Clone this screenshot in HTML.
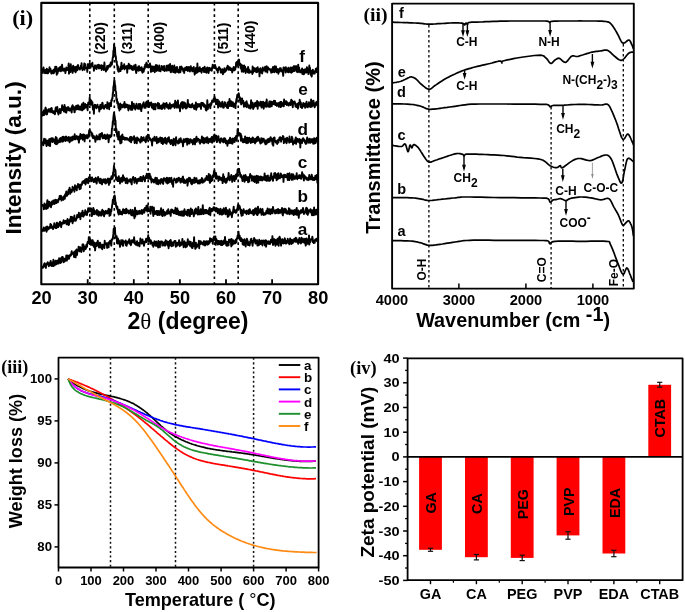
<!DOCTYPE html>
<html><head><meta charset="utf-8"><style>
html,body{margin:0;padding:0;background:#fff;}
svg{display:block;will-change:transform;filter:blur(0.4px);}
</style></head><body>
<svg width="685" height="612" viewBox="0 0 685 612">
<rect width="685" height="612" fill="#fff"/>
<line x1="89.8" y1="2.9" x2="89.8" y2="284.2" stroke="#000" stroke-width="1.6" stroke-dasharray="2.6 3.1"/>
<line x1="114.3" y1="2.9" x2="114.3" y2="284.2" stroke="#000" stroke-width="1.6" stroke-dasharray="2.6 3.1"/>
<line x1="148.2" y1="2.9" x2="148.2" y2="284.2" stroke="#000" stroke-width="1.6" stroke-dasharray="2.6 3.1"/>
<line x1="214.4" y1="2.9" x2="214.4" y2="284.2" stroke="#000" stroke-width="1.6" stroke-dasharray="2.6 3.1"/>
<line x1="238.2" y1="2.9" x2="238.2" y2="284.2" stroke="#000" stroke-width="1.6" stroke-dasharray="2.6 3.1"/>
<path d="M42.0,68.4L42.3,70.1L42.6,72.1L42.9,73.0L43.2,68.9L43.5,67.4L43.8,70.0L44.1,70.7L44.4,70.5L44.7,70.0L45.0,73.2L45.3,73.1L45.6,73.1L45.9,69.7L46.2,71.8L46.5,71.0L46.8,68.8L47.1,73.2L47.4,71.4L47.7,69.6L48.0,73.2L48.3,71.8L48.6,71.2L48.9,71.8L49.2,71.2L49.5,67.2L49.8,68.5L50.1,71.5L50.4,68.8L50.7,70.3L51.0,71.1L51.3,73.5L51.6,73.4L51.9,72.3L52.2,70.6L52.5,73.0L52.8,72.1L53.1,70.4L53.4,73.3L53.7,71.6L54.0,69.4L54.3,72.7L54.6,70.0L54.9,71.1L55.2,66.7L55.5,69.1L55.8,67.9L56.1,67.8L56.4,66.8L56.7,74.8L57.0,70.8L57.3,71.4L57.6,73.5L57.9,70.4L58.2,71.5L58.5,68.1L58.8,70.2L59.1,68.9L59.4,70.8L59.7,70.3L60.0,67.1L60.3,66.8L60.6,68.2L60.9,71.2L61.2,70.5L61.5,70.6L61.8,66.3L62.1,64.8L62.4,69.1L62.7,69.6L63.0,69.1L63.3,70.8L63.6,70.3L63.9,68.7L64.2,68.6L64.5,70.7L64.8,70.5L65.1,69.8L65.4,73.1L65.7,69.4L66.0,69.4L66.3,67.4L66.6,68.9L66.9,70.3L67.2,69.9L67.5,68.5L67.8,69.4L68.1,68.8L68.4,66.4L68.7,63.4L69.0,73.7L69.3,71.1L69.6,69.5L69.9,66.0L70.2,67.1L70.5,72.0L70.8,64.3L71.1,68.2L71.4,70.0L71.7,69.0L72.0,70.1L72.3,68.4L72.6,72.9L72.9,66.6L73.2,65.7L73.5,68.8L73.8,70.9L74.1,67.8L74.4,70.5L74.7,68.0L75.0,67.0L75.3,71.7L75.6,72.3L75.9,71.4L76.2,68.0L76.5,66.8L76.8,66.5L77.1,68.1L77.4,70.2L77.7,69.4L78.0,65.0L78.3,68.0L78.6,67.9L78.9,68.2L79.2,68.2L79.5,68.2L79.8,69.6L80.1,68.8L80.4,67.9L80.7,65.8L81.0,67.7L81.3,66.7L81.6,63.2L81.9,68.6L82.2,68.1L82.5,70.2L82.8,68.7L83.1,68.6L83.4,68.8L83.7,67.7L84.0,66.5L84.3,63.4L84.6,69.8L84.9,63.8L85.2,66.2L85.5,68.0L85.8,67.2L86.1,67.5L86.4,67.8L86.7,68.8L87.0,67.1L87.3,71.9L87.6,64.3L87.9,66.6L88.2,65.0L88.5,64.6L88.8,66.5L89.1,68.2L89.4,63.4L89.7,63.1L90.0,65.3L90.3,64.6L90.6,67.8L90.9,66.4L91.2,64.9L91.5,64.1L91.8,65.1L92.1,64.8L92.4,62.8L92.7,66.2L93.0,66.5L93.3,66.9L93.6,66.7L93.9,70.8L94.2,68.8L94.5,69.0L94.8,66.0L95.1,65.3L95.4,66.7L95.7,68.0L96.0,66.6L96.3,67.3L96.6,69.0L96.9,67.6L97.2,65.1L97.5,66.3L97.8,65.7L98.1,67.3L98.4,64.7L98.7,66.3L99.0,68.5L99.3,67.2L99.6,65.3L99.9,66.2L100.2,67.3L100.5,68.1L100.8,68.3L101.1,67.0L101.4,65.1L101.7,70.0L102.0,67.5L102.3,68.5L102.6,68.3L102.9,65.8L103.2,67.8L103.5,68.8L103.8,70.0L104.1,68.1L104.4,62.5L104.7,67.1L105.0,68.3L105.3,69.8L105.6,68.4L105.9,71.5L106.2,70.4L106.5,70.3L106.8,69.6L107.1,65.9L107.4,69.6L107.7,68.6L108.0,66.3L108.3,67.7L108.6,67.3L108.9,65.4L109.2,65.8L109.5,65.0L109.8,66.1L110.1,64.4L110.4,66.5L110.7,62.5L111.0,65.5L111.3,63.2L111.6,64.7L111.9,64.5L112.2,61.6L112.5,59.6L112.8,57.1L113.1,57.4L113.4,50.6L113.7,51.5L114.0,44.8L114.3,46.1L114.6,47.7L114.9,47.4L115.2,52.3L115.5,56.9L115.8,56.1L116.1,60.7L116.4,62.5L116.7,61.2L117.0,65.3L117.3,65.1L117.6,69.5L117.9,66.3L118.2,71.2L118.5,66.9L118.8,71.8L119.1,69.5L119.4,69.0L119.7,69.3L120.0,70.1L120.3,70.5L120.6,71.0L120.9,67.1L121.2,65.4L121.5,62.7L121.8,67.4L122.1,69.0L122.4,68.5L122.7,68.3L123.0,66.5L123.3,65.7L123.6,66.8L123.9,68.0L124.2,64.3L124.5,69.4L124.8,65.9L125.1,68.1L125.4,67.4L125.7,67.9L126.0,66.7L126.3,66.6L126.6,68.0L126.9,65.9L127.2,72.7L127.5,67.6L127.8,66.9L128.1,67.5L128.4,66.6L128.7,63.8L129.0,67.5L129.3,68.7L129.6,64.8L129.9,68.1L130.2,65.7L130.5,67.5L130.8,68.1L131.1,68.7L131.4,68.3L131.7,66.0L132.0,69.5L132.3,68.3L132.6,69.4L132.9,70.1L133.2,68.6L133.5,66.8L133.8,68.5L134.1,65.5L134.4,65.9L134.7,65.6L135.0,69.6L135.3,68.1L135.6,64.8L135.9,70.9L136.2,73.1L136.5,71.8L136.8,67.8L137.1,68.9L137.4,69.0L137.7,70.0L138.0,68.5L138.3,66.5L138.6,70.7L138.9,70.6L139.2,66.2L139.5,68.1L139.8,68.9L140.1,67.8L140.4,68.4L140.7,70.3L141.0,70.1L141.3,69.5L141.6,67.1L141.9,70.7L142.2,71.6L142.5,72.7L142.8,69.0L143.1,68.8L143.4,71.8L143.7,71.7L144.0,69.2L144.3,69.4L144.6,66.6L144.9,68.2L145.2,64.6L145.5,66.0L145.8,66.1L146.1,65.4L146.4,62.6L146.7,65.6L147.0,67.2L147.3,65.3L147.6,64.5L147.9,65.6L148.2,66.4L148.5,67.2L148.8,65.5L149.1,67.0L149.4,65.8L149.7,64.8L150.0,63.5L150.3,66.2L150.6,65.4L150.9,71.9L151.2,67.4L151.5,67.5L151.8,67.0L152.1,71.3L152.4,66.5L152.7,68.4L153.0,67.3L153.3,68.7L153.6,69.0L153.9,71.1L154.2,66.5L154.5,68.7L154.8,72.2L155.1,68.2L155.4,68.9L155.7,68.0L156.0,64.9L156.3,68.7L156.6,71.0L156.9,67.9L157.2,65.5L157.5,69.1L157.8,68.8L158.1,70.4L158.4,70.7L158.7,67.6L159.0,69.4L159.3,65.4L159.6,70.9L159.9,68.6L160.2,71.0L160.5,71.3L160.8,69.2L161.1,69.4L161.4,68.4L161.7,65.9L162.0,69.1L162.3,69.5L162.6,66.9L162.9,70.0L163.2,69.0L163.5,69.8L163.8,67.6L164.1,65.9L164.4,71.0L164.7,71.0L165.0,69.9L165.3,69.5L165.6,69.9L165.9,69.6L166.2,68.6L166.5,65.8L166.8,70.7L167.1,66.2L167.4,68.4L167.7,68.1L168.0,68.9L168.3,65.1L168.6,70.3L168.9,69.4L169.2,70.0L169.5,70.3L169.8,67.2L170.1,64.0L170.4,69.8L170.7,72.2L171.0,72.2L171.3,68.8L171.6,68.9L171.9,69.6L172.2,65.7L172.5,68.1L172.8,68.1L173.1,72.0L173.4,68.0L173.7,71.5L174.0,68.9L174.3,65.5L174.6,72.5L174.9,67.3L175.2,70.6L175.5,72.7L175.8,69.0L176.1,67.7L176.4,71.9L176.7,69.7L177.0,66.9L177.3,67.6L177.6,69.6L177.9,72.0L178.2,69.8L178.5,71.7L178.8,72.6L179.1,71.4L179.4,71.4L179.7,71.8L180.0,66.7L180.3,72.4L180.6,70.8L180.9,69.5L181.2,67.3L181.5,66.6L181.8,67.2L182.1,69.5L182.4,68.4L182.7,68.3L183.0,68.5L183.3,71.4L183.6,69.6L183.9,69.6L184.2,73.0L184.5,69.2L184.8,70.5L185.1,67.8L185.4,69.9L185.7,69.6L186.0,70.1L186.3,68.3L186.6,66.9L186.9,68.3L187.2,67.8L187.5,70.3L187.8,71.0L188.1,67.0L188.4,70.7L188.7,68.4L189.0,70.4L189.3,68.7L189.6,67.2L189.9,71.5L190.2,70.3L190.5,67.7L190.8,66.3L191.1,68.6L191.4,67.7L191.7,69.2L192.0,70.3L192.3,71.4L192.6,68.3L192.9,71.4L193.2,71.1L193.5,68.8L193.8,67.0L194.1,71.5L194.4,71.3L194.7,74.6L195.0,72.7L195.3,71.4L195.6,73.0L195.9,68.0L196.2,69.9L196.5,69.6L196.8,72.8L197.1,70.7L197.4,63.5L197.7,72.0L198.0,67.9L198.3,71.5L198.6,69.5L198.9,70.8L199.2,71.0L199.5,69.7L199.8,67.1L200.1,71.4L200.4,70.1L200.7,69.6L201.0,71.2L201.3,68.9L201.6,72.7L201.9,69.4L202.2,69.8L202.5,69.7L202.8,67.9L203.1,68.0L203.4,70.4L203.7,70.3L204.0,72.1L204.3,69.9L204.6,66.6L204.9,70.2L205.2,71.3L205.5,71.9L205.8,71.1L206.1,68.4L206.4,72.7L206.7,68.8L207.0,70.9L207.3,67.5L207.6,71.6L207.9,68.3L208.2,71.8L208.5,73.1L208.8,71.7L209.1,67.7L209.4,68.4L209.7,68.1L210.0,70.4L210.3,69.7L210.6,68.9L210.9,68.6L211.2,69.1L211.5,69.1L211.8,70.7L212.1,67.3L212.4,67.9L212.7,64.7L213.0,65.5L213.3,66.6L213.6,65.7L213.9,67.5L214.2,68.1L214.5,65.2L214.8,65.1L215.1,65.0L215.4,67.2L215.7,66.7L216.0,68.6L216.3,68.7L216.6,69.9L216.9,70.3L217.2,69.3L217.5,69.7L217.8,72.6L218.1,68.4L218.4,70.4L218.7,68.3L219.0,67.1L219.3,67.2L219.6,67.7L219.9,68.9L220.2,68.6L220.5,69.7L220.8,72.5L221.1,69.6L221.4,72.5L221.7,70.3L222.0,71.6L222.3,69.1L222.6,69.9L222.9,74.3L223.2,72.0L223.5,71.9L223.8,70.9L224.1,72.5L224.4,68.3L224.7,68.8L225.0,71.4L225.3,71.7L225.6,69.9L225.9,70.8L226.2,70.3L226.5,70.1L226.8,67.7L227.1,67.1L227.4,68.9L227.7,65.7L228.0,67.2L228.3,68.1L228.6,66.7L228.9,69.8L229.2,68.2L229.5,69.1L229.8,67.5L230.1,68.7L230.4,70.0L230.7,70.0L231.0,68.5L231.3,70.2L231.6,69.6L231.9,69.9L232.2,72.5L232.5,68.8L232.8,70.3L233.1,70.1L233.4,68.8L233.7,67.0L234.0,70.5L234.3,70.1L234.6,69.5L234.9,69.5L235.2,69.7L235.5,66.9L235.8,67.4L236.1,62.8L236.4,65.2L236.7,62.0L237.0,63.9L237.3,65.8L237.6,63.4L237.9,61.5L238.2,61.3L238.5,59.9L238.8,59.5L239.1,59.8L239.4,65.1L239.7,64.7L240.0,65.4L240.3,63.6L240.6,67.9L240.9,64.5L241.2,69.0L241.5,65.9L241.8,71.6L242.1,65.2L242.4,71.2L242.7,70.4L243.0,66.0L243.3,68.3L243.6,71.9L243.9,70.5L244.2,65.4L244.5,67.5L244.8,66.8L245.1,66.7L245.4,68.5L245.7,73.0L246.0,69.7L246.3,69.2L246.6,69.9L246.9,71.2L247.2,71.1L247.5,68.5L247.8,72.2L248.1,67.0L248.4,69.0L248.7,70.7L249.0,73.0L249.3,69.7L249.6,70.9L249.9,72.5L250.2,71.4L250.5,72.2L250.8,72.0L251.1,71.3L251.4,71.9L251.7,72.1L252.0,71.1L252.3,74.0L252.6,66.5L252.9,68.5L253.2,72.6L253.5,70.0L253.8,68.2L254.1,70.3L254.4,71.1L254.7,68.3L255.0,70.7L255.3,69.3L255.6,69.2L255.9,69.3L256.2,72.2L256.5,68.2L256.8,69.7L257.1,72.1L257.4,68.9L257.7,67.2L258.0,71.4L258.3,70.1L258.6,69.8L258.9,70.4L259.2,69.1L259.5,76.4L259.8,68.9L260.1,70.0L260.4,68.3L260.7,69.6L261.0,72.6L261.3,70.7L261.6,71.6L261.9,69.1L262.2,73.5L262.5,70.5L262.8,67.4L263.1,70.6L263.4,68.6L263.7,70.6L264.0,69.6L264.3,69.7L264.6,69.5L264.9,67.8L265.2,66.7L265.5,71.6L265.8,69.5L266.1,70.2L266.4,68.9L266.7,66.2L267.0,67.4L267.3,72.5L267.6,68.8L267.9,69.6L268.2,67.4L268.5,68.5L268.8,69.2L269.1,69.4L269.4,69.5L269.7,68.9L270.0,69.6L270.3,70.1L270.6,70.8L270.9,69.7L271.2,72.7L271.5,70.3L271.8,69.9L272.1,69.0L272.4,72.2L272.7,68.2L273.0,67.0L273.3,68.4L273.6,71.1L273.9,68.0L274.2,72.3L274.5,69.2L274.8,66.2L275.1,68.0L275.4,71.4L275.7,67.1L276.0,66.6L276.3,69.7L276.6,72.2L276.9,71.8L277.2,68.9L277.5,70.4L277.8,71.6L278.1,72.1L278.4,73.7L278.7,69.7L279.0,72.2L279.3,68.8L279.6,70.6L279.9,68.3L280.2,69.2L280.5,70.6L280.8,68.2L281.1,71.3L281.4,69.4L281.7,70.7L282.0,71.1L282.3,70.7L282.6,72.2L282.9,72.6L283.2,75.8L283.5,67.4L283.8,69.7L284.1,68.5L284.4,67.7L284.7,69.9L285.0,68.4L285.3,70.3L285.6,72.6L285.9,67.1L286.2,71.0L286.5,71.5L286.8,68.6L287.1,70.7L287.4,70.1L287.7,69.5L288.0,72.1L288.3,67.8L288.6,72.4L288.9,71.1L289.2,69.1L289.5,70.4L289.8,70.1L290.1,72.0L290.4,67.5L290.7,69.3L291.0,69.0L291.3,72.8L291.6,68.0L291.9,72.2L292.2,67.4L292.5,71.7L292.8,70.4L293.1,71.1L293.4,69.2L293.7,66.4L294.0,66.1L294.3,71.1L294.6,69.1L294.9,66.5L295.2,69.8L295.5,67.0L295.8,66.6L296.1,66.0L296.4,70.5L296.7,71.7L297.0,66.7L297.3,69.1L297.6,70.0L297.9,72.3L298.2,64.6L298.5,69.7L298.8,70.8L299.1,67.4L299.4,71.0L299.7,71.4L300.0,72.3L300.3,70.5L300.6,72.3L300.9,70.3L301.2,72.4L301.5,71.1L301.8,70.3L302.1,68.4L302.4,74.0L302.7,72.6L303.0,73.1L303.3,69.9L303.6,70.6L303.9,74.3L304.2,72.9L304.5,69.5L304.8,71.5L305.1,71.9L305.4,70.8L305.7,69.3L306.0,72.7L306.3,71.5L306.6,69.5L306.9,67.2L307.2,68.9L307.5,70.8L307.8,72.5L308.1,70.7L308.4,74.1L308.7,72.1L309.0,69.5L309.3,65.5L309.6,68.3L309.9,67.7L310.2,71.0L310.5,72.1L310.8,74.9L311.1,73.0L311.4,70.8L311.7,76.6L312.0,74.1L312.3,72.3L312.6,71.7L312.9,69.6L313.2,72.6L313.5,71.6L313.8,73.7L314.1,73.1L314.4,72.8L314.7,73.6L315.0,71.1L315.3,70.5L315.6,71.4L315.9,68.7L316.2,71.1L316.5,70.2L316.8,72.3L317.1,70.6L317.4,67.5L317.7,70.7" fill="none" stroke="#000" stroke-width="1.9" stroke-linejoin="round"/>
<path d="M42.0,111.8L42.3,112.0L42.6,115.5L42.9,115.4L43.2,114.6L43.5,113.9L43.8,110.5L44.1,115.1L44.4,111.9L44.7,114.1L45.0,113.0L45.3,108.5L45.6,107.6L45.9,108.7L46.2,111.6L46.5,114.5L46.8,112.0L47.1,114.3L47.4,110.2L47.7,110.9L48.0,110.0L48.3,111.6L48.6,109.1L48.9,110.5L49.2,111.8L49.5,109.8L49.8,109.2L50.1,109.7L50.4,108.7L50.7,108.9L51.0,112.2L51.3,110.7L51.6,107.9L51.9,109.6L52.2,111.1L52.5,111.7L52.8,111.8L53.1,113.0L53.4,111.3L53.7,111.1L54.0,111.1L54.3,113.4L54.6,112.6L54.9,114.3L55.2,113.1L55.5,108.7L55.8,107.4L56.1,107.5L56.4,108.1L56.7,111.0L57.0,108.2L57.3,107.0L57.6,110.5L57.9,112.8L58.2,112.9L58.5,114.5L58.8,111.9L59.1,111.2L59.4,111.2L59.7,109.0L60.0,110.0L60.3,112.9L60.6,113.2L60.9,111.3L61.2,109.6L61.5,108.6L61.8,109.2L62.1,105.2L62.4,109.8L62.7,110.0L63.0,108.1L63.3,109.0L63.6,106.8L63.9,111.4L64.2,111.6L64.5,104.9L64.8,108.2L65.1,109.5L65.4,112.0L65.7,107.4L66.0,109.4L66.3,112.7L66.6,111.0L66.9,109.0L67.2,108.1L67.5,108.9L67.8,107.3L68.1,109.9L68.4,107.3L68.7,109.9L69.0,110.4L69.3,110.7L69.6,109.4L69.9,108.5L70.2,109.5L70.5,109.1L70.8,110.6L71.1,108.1L71.4,111.5L71.7,112.5L72.0,106.3L72.3,108.2L72.6,105.3L72.9,109.3L73.2,108.9L73.5,107.9L73.8,106.6L74.1,108.5L74.4,112.3L74.7,112.1L75.0,109.5L75.3,107.8L75.6,108.4L75.9,107.2L76.2,105.7L76.5,106.9L76.8,109.5L77.1,109.1L77.4,108.7L77.7,106.3L78.0,105.1L78.3,109.0L78.6,106.9L78.9,109.4L79.2,106.4L79.5,109.6L79.8,108.5L80.1,107.1L80.4,106.6L80.7,109.7L81.0,108.6L81.3,106.5L81.6,107.1L81.9,104.1L82.2,110.4L82.5,109.5L82.8,106.4L83.1,108.0L83.4,102.6L83.7,109.3L84.0,107.9L84.3,107.6L84.6,108.1L84.9,106.6L85.2,104.0L85.5,104.7L85.8,105.0L86.1,107.6L86.4,106.6L86.7,105.5L87.0,107.2L87.3,104.6L87.6,110.2L87.9,105.8L88.2,102.6L88.5,104.1L88.8,104.2L89.1,102.2L89.4,104.2L89.7,97.2L90.0,101.9L90.3,99.7L90.6,102.2L90.9,104.9L91.2,100.4L91.5,101.1L91.8,103.8L92.1,102.3L92.4,102.2L92.7,107.0L93.0,109.6L93.3,106.9L93.6,108.2L93.9,113.8L94.2,107.4L94.5,105.2L94.8,104.7L95.1,106.7L95.4,105.0L95.7,106.3L96.0,106.0L96.3,108.3L96.6,106.2L96.9,106.3L97.2,105.3L97.5,104.7L97.8,106.6L98.1,106.6L98.4,107.7L98.7,107.4L99.0,107.2L99.3,111.5L99.6,107.8L99.9,109.5L100.2,105.0L100.5,108.7L100.8,109.0L101.1,107.4L101.4,104.4L101.7,108.1L102.0,104.6L102.3,102.8L102.6,103.0L102.9,106.4L103.2,105.9L103.5,108.0L103.8,107.8L104.1,108.9L104.4,107.1L104.7,106.6L105.0,106.2L105.3,104.9L105.6,105.0L105.9,105.6L106.2,107.4L106.5,105.2L106.8,106.7L107.1,108.6L107.4,102.1L107.7,105.1L108.0,105.0L108.3,106.6L108.6,103.6L108.9,104.8L109.2,109.3L109.5,103.1L109.8,105.4L110.1,105.8L110.4,105.2L110.7,102.9L111.0,106.1L111.3,100.2L111.6,101.1L111.9,100.3L112.2,98.0L112.5,98.5L112.8,92.9L113.1,93.1L113.4,86.5L113.7,86.6L114.0,82.6L114.3,79.9L114.6,81.1L114.9,85.4L115.2,85.4L115.5,89.9L115.8,92.1L116.1,92.1L116.4,99.3L116.7,100.9L117.0,98.9L117.3,103.5L117.6,103.7L117.9,102.0L118.2,104.8L118.5,108.0L118.8,108.1L119.1,107.1L119.4,110.5L119.7,106.1L120.0,104.0L120.3,103.5L120.6,109.0L120.9,105.3L121.2,105.4L121.5,104.9L121.8,105.0L122.1,105.5L122.4,107.4L122.7,107.4L123.0,106.4L123.3,106.6L123.6,104.0L123.9,104.1L124.2,105.7L124.5,102.0L124.8,107.6L125.1,107.3L125.4,107.0L125.7,104.5L126.0,106.1L126.3,107.2L126.6,105.4L126.9,104.6L127.2,105.5L127.5,106.5L127.8,104.9L128.1,108.2L128.4,110.5L128.7,107.9L129.0,105.9L129.3,105.4L129.6,108.5L129.9,106.4L130.2,107.2L130.5,106.7L130.8,106.0L131.1,109.9L131.4,106.6L131.7,106.5L132.0,102.0L132.3,109.9L132.6,107.3L132.9,106.0L133.2,105.3L133.5,105.6L133.8,103.7L134.1,107.7L134.4,105.5L134.7,108.1L135.0,108.3L135.3,109.6L135.6,106.5L135.9,105.7L136.2,105.2L136.5,103.7L136.8,105.2L137.1,106.4L137.4,108.4L137.7,108.3L138.0,106.3L138.3,108.8L138.6,105.7L138.9,103.9L139.2,108.7L139.5,106.1L139.8,105.0L140.1,103.9L140.4,105.4L140.7,109.7L141.0,106.5L141.3,111.1L141.6,106.6L141.9,108.1L142.2,106.4L142.5,104.5L142.8,104.2L143.1,104.7L143.4,103.0L143.7,102.3L144.0,105.7L144.3,107.8L144.6,106.1L144.9,105.8L145.2,104.2L145.5,107.8L145.8,107.0L146.1,102.1L146.4,104.0L146.7,103.4L147.0,101.4L147.3,106.0L147.6,105.5L147.9,104.0L148.2,106.1L148.5,102.3L148.8,104.8L149.1,107.1L149.4,103.4L149.7,104.9L150.0,102.9L150.3,105.4L150.6,105.3L150.9,102.7L151.2,102.4L151.5,104.1L151.8,107.5L152.1,104.9L152.4,104.6L152.7,106.4L153.0,108.6L153.3,104.0L153.6,106.6L153.9,109.3L154.2,107.0L154.5,106.0L154.8,107.7L155.1,103.8L155.4,109.4L155.7,105.8L156.0,104.5L156.3,105.5L156.6,105.4L156.9,105.5L157.2,104.1L157.5,105.9L157.8,103.0L158.1,108.4L158.4,103.3L158.7,103.6L159.0,103.7L159.3,106.9L159.6,105.7L159.9,108.5L160.2,105.6L160.5,107.1L160.8,106.4L161.1,105.7L161.4,108.6L161.7,109.1L162.0,109.0L162.3,104.9L162.6,108.1L162.9,105.6L163.2,104.9L163.5,103.3L163.8,103.9L164.1,106.4L164.4,107.3L164.7,108.7L165.0,103.7L165.3,104.5L165.6,105.8L165.9,106.1L166.2,106.4L166.5,102.9L166.8,105.8L167.1,107.5L167.4,106.9L167.7,105.9L168.0,104.8L168.3,105.8L168.6,108.7L168.9,106.4L169.2,106.9L169.5,108.4L169.8,103.3L170.1,106.9L170.4,106.9L170.7,108.5L171.0,105.7L171.3,105.7L171.6,104.9L171.9,106.7L172.2,105.9L172.5,105.6L172.8,106.4L173.1,105.6L173.4,104.1L173.7,104.9L174.0,105.1L174.3,107.1L174.6,107.9L174.9,104.8L175.2,100.7L175.5,105.7L175.8,104.3L176.1,102.2L176.4,103.5L176.7,107.6L177.0,102.1L177.3,103.2L177.6,105.8L177.9,100.4L178.2,105.1L178.5,107.6L178.8,106.7L179.1,106.5L179.4,105.4L179.7,106.1L180.0,111.3L180.3,106.4L180.6,107.8L180.9,103.3L181.2,105.7L181.5,105.8L181.8,105.9L182.1,102.0L182.4,105.1L182.7,108.5L183.0,106.9L183.3,104.2L183.6,107.3L183.9,102.3L184.2,107.1L184.5,107.2L184.8,105.8L185.1,104.8L185.4,103.3L185.7,105.9L186.0,108.6L186.3,107.4L186.6,106.8L186.9,107.8L187.2,104.9L187.5,106.8L187.8,100.0L188.1,104.6L188.4,104.9L188.7,105.8L189.0,106.0L189.3,106.9L189.6,104.5L189.9,107.0L190.2,105.3L190.5,107.2L190.8,106.3L191.1,107.4L191.4,106.6L191.7,104.7L192.0,106.2L192.3,103.8L192.6,106.2L192.9,106.9L193.2,105.5L193.5,105.6L193.8,108.1L194.1,108.4L194.4,109.0L194.7,105.2L195.0,105.3L195.3,106.8L195.6,107.4L195.9,102.4L196.2,109.7L196.5,108.2L196.8,103.9L197.1,107.3L197.4,104.7L197.7,105.5L198.0,104.0L198.3,104.8L198.6,106.4L198.9,106.8L199.2,104.3L199.5,105.9L199.8,104.3L200.1,104.7L200.4,104.3L200.7,104.2L201.0,108.9L201.3,102.8L201.6,102.9L201.9,105.0L202.2,104.6L202.5,102.9L202.8,105.3L203.1,103.1L203.4,105.0L203.7,106.5L204.0,105.3L204.3,104.3L204.6,104.6L204.9,105.6L205.2,107.5L205.5,105.8L205.8,109.9L206.1,108.6L206.4,110.6L206.7,107.9L207.0,107.8L207.3,100.2L207.6,104.8L207.9,109.1L208.2,106.4L208.5,104.9L208.8,106.5L209.1,105.7L209.4,105.8L209.7,104.2L210.0,106.3L210.3,108.4L210.6,105.2L210.9,105.4L211.2,102.7L211.5,104.1L211.8,102.4L212.1,100.4L212.4,101.5L212.7,101.1L213.0,101.7L213.3,101.7L213.6,98.9L213.9,98.3L214.2,99.7L214.5,96.8L214.8,98.1L215.1,98.8L215.4,99.2L215.7,99.4L216.0,104.2L216.3,103.6L216.6,102.2L216.9,100.0L217.2,101.9L217.5,104.5L217.8,99.7L218.1,107.6L218.4,103.3L218.7,103.6L219.0,105.0L219.3,101.4L219.6,104.5L219.9,104.7L220.2,106.5L220.5,103.1L220.8,106.2L221.1,106.7L221.4,105.1L221.7,103.5L222.0,102.9L222.3,101.6L222.6,104.5L222.9,106.5L223.2,107.8L223.5,107.4L223.8,107.6L224.1,104.0L224.4,103.9L224.7,102.2L225.0,103.2L225.3,102.6L225.6,105.0L225.9,106.2L226.2,104.9L226.5,105.0L226.8,106.8L227.1,107.7L227.4,107.3L227.7,102.5L228.0,108.1L228.3,104.1L228.6,101.6L228.9,103.7L229.2,105.9L229.5,99.0L229.8,106.0L230.1,104.7L230.4,105.0L230.7,101.1L231.0,102.3L231.3,101.5L231.6,106.1L231.9,102.6L232.2,105.1L232.5,104.1L232.8,102.1L233.1,106.1L233.4,106.8L233.7,106.9L234.0,103.7L234.3,105.5L234.6,106.5L234.9,106.1L235.2,105.6L235.5,108.1L235.8,102.1L236.1,103.3L236.4,98.9L236.7,101.8L237.0,97.1L237.3,94.8L237.6,97.3L237.9,95.5L238.2,94.2L238.5,94.5L238.8,93.3L239.1,96.0L239.4,96.9L239.7,100.3L240.0,97.5L240.3,102.5L240.6,102.1L240.9,98.7L241.2,104.4L241.5,98.9L241.8,103.2L242.1,98.4L242.4,102.7L242.7,102.2L243.0,103.2L243.3,100.9L243.6,103.0L243.9,106.7L244.2,105.4L244.5,103.6L244.8,103.3L245.1,103.0L245.4,106.4L245.7,103.6L246.0,105.8L246.3,101.5L246.6,101.3L246.9,107.2L247.2,103.3L247.5,104.3L247.8,105.3L248.1,106.0L248.4,105.3L248.7,105.5L249.0,108.0L249.3,105.4L249.6,106.9L249.9,105.9L250.2,105.8L250.5,108.6L250.8,105.0L251.1,100.2L251.4,104.1L251.7,104.4L252.0,107.4L252.3,103.7L252.6,102.6L252.9,105.7L253.2,109.0L253.5,105.5L253.8,107.8L254.1,106.4L254.4,106.4L254.7,103.5L255.0,104.2L255.3,102.7L255.6,103.9L255.9,103.2L256.2,106.3L256.5,103.6L256.8,104.2L257.1,100.9L257.4,102.7L257.7,108.8L258.0,103.7L258.3,102.3L258.6,105.4L258.9,104.9L259.2,104.3L259.5,104.7L259.8,103.5L260.1,105.8L260.4,101.7L260.7,104.2L261.0,105.2L261.3,101.9L261.6,107.6L261.9,104.6L262.2,104.3L262.5,103.1L262.8,106.1L263.1,101.7L263.4,105.5L263.7,108.7L264.0,106.1L264.3,106.5L264.6,102.8L264.9,105.3L265.2,102.5L265.5,102.6L265.8,103.2L266.1,106.9L266.4,102.3L266.7,99.5L267.0,103.5L267.3,105.9L267.6,105.9L267.9,105.1L268.2,106.9L268.5,106.3L268.8,105.0L269.1,103.1L269.4,101.4L269.7,106.9L270.0,102.2L270.3,106.5L270.6,106.2L270.9,101.5L271.2,103.0L271.5,104.9L271.8,106.2L272.1,101.9L272.4,103.4L272.7,102.5L273.0,102.4L273.3,104.0L273.6,103.4L273.9,100.6L274.2,104.2L274.5,102.2L274.8,102.9L275.1,100.9L275.4,105.0L275.7,104.4L276.0,104.3L276.3,103.1L276.6,104.3L276.9,106.0L277.2,103.5L277.5,104.0L277.8,103.2L278.1,105.2L278.4,104.2L278.7,103.3L279.0,106.8L279.3,104.0L279.6,102.4L279.9,102.7L280.2,102.8L280.5,102.0L280.8,107.1L281.1,105.5L281.4,101.9L281.7,106.4L282.0,103.4L282.3,104.0L282.6,103.2L282.9,104.5L283.2,104.4L283.5,105.6L283.8,106.3L284.1,99.5L284.4,103.3L284.7,104.3L285.0,104.0L285.3,101.4L285.6,103.9L285.9,104.1L286.2,101.1L286.5,102.4L286.8,105.0L287.1,102.1L287.4,103.0L287.7,103.4L288.0,104.5L288.3,105.0L288.6,105.6L288.9,103.8L289.2,103.8L289.5,102.6L289.8,103.3L290.1,103.2L290.4,105.0L290.7,104.7L291.0,101.5L291.3,99.7L291.6,104.0L291.9,102.6L292.2,100.8L292.5,105.9L292.8,107.3L293.1,102.7L293.4,102.7L293.7,103.3L294.0,101.8L294.3,102.9L294.6,101.4L294.9,103.8L295.2,103.0L295.5,106.5L295.8,104.5L296.1,106.0L296.4,107.1L296.7,105.7L297.0,105.9L297.3,103.6L297.6,104.5L297.9,108.6L298.2,106.2L298.5,103.6L298.8,102.9L299.1,102.7L299.4,104.4L299.7,99.8L300.0,103.9L300.3,101.5L300.6,107.0L300.9,102.8L301.2,106.7L301.5,104.3L301.8,104.5L302.1,108.1L302.4,105.4L302.7,106.6L303.0,106.1L303.3,103.0L303.6,104.8L303.9,106.2L304.2,105.0L304.5,104.8L304.8,103.7L305.1,107.8L305.4,103.7L305.7,107.5L306.0,104.5L306.3,105.8L306.6,101.8L306.9,105.2L307.2,103.9L307.5,105.8L307.8,107.3L308.1,106.0L308.4,104.8L308.7,106.1L309.0,102.2L309.3,104.9L309.6,103.3L309.9,106.6L310.2,102.8L310.5,106.8L310.8,107.1L311.1,99.4L311.4,102.9L311.7,100.8L312.0,106.5L312.3,102.3L312.6,105.3L312.9,105.0L313.2,102.4L313.5,100.8L313.8,105.8L314.1,103.3L314.4,104.6L314.7,107.4L315.0,105.1L315.3,105.1L315.6,102.9L315.9,105.5L316.2,102.8L316.5,101.8L316.8,103.6L317.1,104.3L317.4,102.9L317.7,105.7" fill="none" stroke="#000" stroke-width="1.9" stroke-linejoin="round"/>
<path d="M42.0,143.5L42.3,142.3L42.6,143.5L42.9,143.9L43.2,145.3L43.5,144.8L43.8,141.1L44.1,138.8L44.4,141.5L44.7,139.7L45.0,139.4L45.3,143.3L45.6,139.2L45.9,143.5L46.2,143.8L46.5,146.1L46.8,143.4L47.1,145.0L47.4,140.6L47.7,140.7L48.0,144.8L48.3,140.6L48.6,145.2L48.9,142.6L49.2,139.1L49.5,145.8L49.8,139.5L50.1,146.0L50.4,138.7L50.7,140.1L51.0,141.5L51.3,141.3L51.6,138.2L51.9,141.2L52.2,141.5L52.5,142.0L52.8,138.1L53.1,140.2L53.4,140.3L53.7,141.5L54.0,140.2L54.3,139.8L54.6,139.5L54.9,143.4L55.2,139.5L55.5,141.5L55.8,137.0L56.1,144.3L56.4,141.9L56.7,137.9L57.0,142.3L57.3,143.8L57.6,142.6L57.9,141.5L58.2,142.7L58.5,140.4L58.8,140.8L59.1,140.3L59.4,140.6L59.7,138.6L60.0,142.2L60.3,139.4L60.6,138.0L60.9,140.0L61.2,141.0L61.5,139.8L61.8,141.6L62.1,138.4L62.4,136.9L62.7,138.8L63.0,141.6L63.3,137.7L63.6,136.6L63.9,138.9L64.2,140.0L64.5,137.7L64.8,139.7L65.1,138.0L65.4,141.1L65.7,136.7L66.0,136.6L66.3,138.9L66.6,140.2L66.9,140.3L67.2,137.7L67.5,139.3L67.8,139.5L68.1,140.7L68.4,137.2L68.7,136.9L69.0,140.3L69.3,139.3L69.6,142.3L69.9,139.8L70.2,139.9L70.5,137.4L70.8,139.3L71.1,140.9L71.4,138.3L71.7,137.2L72.0,140.5L72.3,138.3L72.6,138.6L72.9,136.4L73.2,139.7L73.5,136.8L73.8,137.4L74.1,138.3L74.4,138.4L74.7,134.2L75.0,139.4L75.3,136.3L75.6,139.4L75.9,137.6L76.2,137.8L76.5,136.2L76.8,136.0L77.1,137.7L77.4,137.8L77.7,139.3L78.0,139.5L78.3,136.8L78.6,140.5L78.9,142.7L79.2,140.2L79.5,137.5L79.8,136.0L80.1,137.5L80.4,134.0L80.7,138.7L81.0,137.1L81.3,136.8L81.6,138.4L81.9,136.1L82.2,134.6L82.5,136.6L82.8,139.7L83.1,135.6L83.4,139.0L83.7,134.4L84.0,137.6L84.3,138.7L84.6,141.4L84.9,135.2L85.2,137.9L85.5,136.5L85.8,138.2L86.1,136.6L86.4,137.4L86.7,135.2L87.0,135.4L87.3,137.1L87.6,138.3L87.9,135.5L88.2,135.7L88.5,134.1L88.8,136.9L89.1,130.9L89.4,130.1L89.7,130.3L90.0,131.6L90.3,132.3L90.6,131.5L90.9,132.9L91.2,132.7L91.5,133.2L91.8,132.9L92.1,136.1L92.4,133.9L92.7,137.5L93.0,138.0L93.3,136.2L93.6,136.2L93.9,136.0L94.2,138.5L94.5,137.8L94.8,137.1L95.1,139.5L95.4,141.9L95.7,139.9L96.0,139.4L96.3,137.3L96.6,135.4L96.9,137.2L97.2,137.0L97.5,136.6L97.8,139.5L98.1,137.8L98.4,138.1L98.7,138.7L99.0,138.7L99.3,134.5L99.6,138.5L99.9,139.4L100.2,134.3L100.5,136.6L100.8,134.8L101.1,133.7L101.4,136.3L101.7,136.2L102.0,133.0L102.3,136.0L102.6,138.3L102.9,135.6L103.2,135.4L103.5,136.3L103.8,136.7L104.1,138.2L104.4,135.5L104.7,134.7L105.0,138.0L105.3,138.4L105.6,138.7L105.9,139.1L106.2,136.8L106.5,135.4L106.8,136.4L107.1,137.8L107.4,134.5L107.7,137.0L108.0,138.8L108.3,137.2L108.6,142.2L108.9,139.4L109.2,135.4L109.5,135.2L109.8,135.2L110.1,136.8L110.4,137.2L110.7,135.5L111.0,135.6L111.3,136.3L111.6,134.8L111.9,129.0L112.2,127.7L112.5,126.0L112.8,121.3L113.1,123.0L113.4,117.3L113.7,115.0L114.0,113.0L114.3,114.6L114.6,115.9L114.9,118.2L115.2,121.6L115.5,120.6L115.8,128.2L116.1,132.1L116.4,129.0L116.7,131.3L117.0,134.7L117.3,136.5L117.6,134.8L117.9,133.9L118.2,139.4L118.5,134.9L118.8,131.8L119.1,138.3L119.4,139.9L119.7,140.7L120.0,140.5L120.3,143.4L120.6,137.1L120.9,136.4L121.2,135.9L121.5,142.7L121.8,137.8L122.1,135.2L122.4,134.5L122.7,139.0L123.0,137.1L123.3,139.0L123.6,137.1L123.9,137.3L124.2,139.0L124.5,138.1L124.8,139.7L125.1,138.1L125.4,137.8L125.7,139.6L126.0,138.3L126.3,138.9L126.6,139.5L126.9,138.0L127.2,138.6L127.5,138.6L127.8,139.8L128.1,139.1L128.4,139.4L128.7,139.9L129.0,139.1L129.3,140.7L129.6,139.0L129.9,137.3L130.2,141.4L130.5,136.9L130.8,140.1L131.1,142.3L131.4,140.3L131.7,137.0L132.0,140.3L132.3,139.4L132.6,138.1L132.9,139.0L133.2,138.3L133.5,138.4L133.8,139.5L134.1,136.2L134.4,140.6L134.7,143.1L135.0,139.8L135.3,138.3L135.6,139.4L135.9,142.2L136.2,138.7L136.5,140.4L136.8,143.2L137.1,137.5L137.4,139.1L137.7,138.4L138.0,138.8L138.3,140.1L138.6,138.7L138.9,140.4L139.2,139.8L139.5,141.3L139.8,141.0L140.1,139.7L140.4,142.6L140.7,139.2L141.0,139.8L141.3,136.9L141.6,141.3L141.9,137.6L142.2,140.8L142.5,138.4L142.8,140.4L143.1,138.1L143.4,138.1L143.7,137.3L144.0,139.9L144.3,139.9L144.6,140.7L144.9,139.9L145.2,139.4L145.5,140.7L145.8,142.3L146.1,137.7L146.4,136.5L146.7,137.9L147.0,140.3L147.3,135.9L147.6,135.7L147.9,134.6L148.2,135.5L148.5,134.9L148.8,134.9L149.1,138.7L149.4,139.4L149.7,138.0L150.0,138.3L150.3,140.2L150.6,138.9L150.9,139.7L151.2,140.6L151.5,140.0L151.8,142.2L152.1,145.5L152.4,139.6L152.7,140.2L153.0,138.5L153.3,139.1L153.6,140.5L153.9,140.6L154.2,139.0L154.5,136.8L154.8,140.5L155.1,138.7L155.4,140.7L155.7,139.8L156.0,140.4L156.3,141.0L156.6,137.0L156.9,143.2L157.2,139.3L157.5,141.6L157.8,141.4L158.1,140.3L158.4,138.7L158.7,142.3L159.0,139.1L159.3,140.2L159.6,140.6L159.9,138.9L160.2,137.4L160.5,139.5L160.8,141.6L161.1,139.1L161.4,143.0L161.7,137.9L162.0,139.0L162.3,138.1L162.6,140.1L162.9,144.1L163.2,142.5L163.5,140.6L163.8,139.3L164.1,142.1L164.4,139.7L164.7,138.1L165.0,142.8L165.3,137.8L165.6,141.2L165.9,141.8L166.2,142.2L166.5,143.9L166.8,142.2L167.1,139.0L167.4,141.7L167.7,140.7L168.0,138.0L168.3,138.2L168.6,138.8L168.9,137.3L169.2,141.6L169.5,142.0L169.8,142.5L170.1,140.3L170.4,141.7L170.7,144.1L171.0,143.0L171.3,141.6L171.6,140.0L171.9,140.7L172.2,143.2L172.5,140.8L172.8,145.1L173.1,145.4L173.4,143.0L173.7,138.6L174.0,141.3L174.3,143.9L174.6,140.5L174.9,139.6L175.2,141.0L175.5,145.3L175.8,139.8L176.1,137.1L176.4,140.9L176.7,141.2L177.0,142.5L177.3,141.5L177.6,142.0L177.9,140.9L178.2,143.6L178.5,141.0L178.8,141.4L179.1,139.3L179.4,142.9L179.7,140.5L180.0,139.4L180.3,140.4L180.6,138.1L180.9,139.3L181.2,141.8L181.5,141.3L181.8,141.3L182.1,142.6L182.4,141.2L182.7,142.6L183.0,146.3L183.3,142.9L183.6,139.2L183.9,141.6L184.2,140.6L184.5,141.1L184.8,141.9L185.1,139.1L185.4,141.4L185.7,140.4L186.0,141.5L186.3,138.7L186.6,139.5L186.9,140.7L187.2,144.8L187.5,138.6L187.8,144.0L188.1,141.1L188.4,142.6L188.7,139.2L189.0,140.6L189.3,140.4L189.6,143.5L189.9,140.2L190.2,141.0L190.5,139.2L190.8,141.0L191.1,140.0L191.4,141.4L191.7,142.3L192.0,142.6L192.3,140.3L192.6,140.3L192.9,144.4L193.2,141.3L193.5,142.5L193.8,141.0L194.1,139.0L194.4,140.5L194.7,140.7L195.0,144.4L195.3,138.8L195.6,140.1L195.9,142.0L196.2,139.7L196.5,136.8L196.8,141.7L197.1,140.7L197.4,139.2L197.7,138.8L198.0,138.8L198.3,140.0L198.6,140.1L198.9,139.3L199.2,140.8L199.5,142.5L199.8,139.9L200.1,143.7L200.4,141.2L200.7,142.1L201.0,141.8L201.3,141.9L201.6,141.1L201.9,136.4L202.2,139.0L202.5,142.5L202.8,138.8L203.1,140.7L203.4,137.8L203.7,139.7L204.0,143.4L204.3,140.9L204.6,139.0L204.9,139.4L205.2,138.2L205.5,141.9L205.8,140.5L206.1,142.5L206.4,142.2L206.7,139.0L207.0,137.4L207.3,137.2L207.6,138.6L207.9,140.0L208.2,143.2L208.5,139.4L208.8,141.9L209.1,139.0L209.4,139.4L209.7,141.7L210.0,140.7L210.3,138.6L210.6,138.6L210.9,141.7L211.2,138.6L211.5,138.4L211.8,137.0L212.1,142.7L212.4,141.4L212.7,139.0L213.0,141.7L213.3,138.2L213.6,136.0L213.9,137.1L214.2,138.8L214.5,134.4L214.8,138.7L215.1,139.1L215.4,139.7L215.7,137.9L216.0,139.8L216.3,135.7L216.6,139.4L216.9,142.1L217.2,141.3L217.5,140.1L217.8,137.1L218.1,138.7L218.4,136.1L218.7,139.1L219.0,140.5L219.3,139.2L219.6,142.2L219.9,140.9L220.2,142.9L220.5,141.1L220.8,138.7L221.1,138.3L221.4,139.5L221.7,140.6L222.0,140.9L222.3,139.7L222.6,141.5L222.9,140.0L223.2,142.3L223.5,138.5L223.8,142.4L224.1,141.0L224.4,139.8L224.7,138.2L225.0,141.3L225.3,139.0L225.6,140.9L225.9,143.4L226.2,140.6L226.5,140.8L226.8,142.6L227.1,141.1L227.4,145.7L227.7,142.2L228.0,143.6L228.3,142.3L228.6,140.1L228.9,143.4L229.2,141.5L229.5,139.5L229.8,140.1L230.1,137.6L230.4,139.2L230.7,142.9L231.0,143.1L231.3,139.3L231.6,142.4L231.9,143.5L232.2,143.0L232.5,143.7L232.8,138.4L233.1,142.1L233.4,138.8L233.7,141.5L234.0,139.3L234.3,140.9L234.6,142.1L234.9,137.7L235.2,139.3L235.5,138.4L235.8,139.0L236.1,136.0L236.4,140.0L236.7,140.8L237.0,135.9L237.3,136.0L237.6,129.1L237.9,130.7L238.2,133.7L238.5,132.4L238.8,133.1L239.1,134.7L239.4,133.2L239.7,133.2L240.0,133.9L240.3,136.3L240.6,133.6L240.9,140.7L241.2,135.2L241.5,136.7L241.8,139.9L242.1,140.6L242.4,140.6L242.7,142.1L243.0,139.2L243.3,139.3L243.6,142.3L243.9,139.1L244.2,141.3L244.5,141.9L244.8,140.9L245.1,136.4L245.4,140.1L245.7,137.4L246.0,142.7L246.3,140.8L246.6,143.0L246.9,143.2L247.2,137.7L247.5,141.4L247.8,140.4L248.1,142.9L248.4,138.2L248.7,138.7L249.0,139.8L249.3,137.8L249.6,141.6L249.9,140.3L250.2,141.4L250.5,141.7L250.8,143.0L251.1,138.6L251.4,142.0L251.7,142.2L252.0,138.7L252.3,139.0L252.6,137.5L252.9,142.2L253.2,142.1L253.5,138.2L253.8,139.4L254.1,140.3L254.4,141.0L254.7,139.8L255.0,143.4L255.3,139.0L255.6,142.3L255.9,141.0L256.2,141.6L256.5,139.5L256.8,137.5L257.1,139.3L257.4,140.8L257.7,138.8L258.0,136.8L258.3,139.7L258.6,140.2L258.9,138.3L259.2,139.7L259.5,141.2L259.8,141.0L260.1,142.4L260.4,143.5L260.7,141.3L261.0,140.0L261.3,138.1L261.6,142.9L261.9,140.8L262.2,142.1L262.5,138.8L262.8,140.6L263.1,139.0L263.4,139.7L263.7,138.7L264.0,140.4L264.3,141.8L264.6,142.8L264.9,141.1L265.2,140.4L265.5,144.4L265.8,143.2L266.1,142.6L266.4,141.7L266.7,143.7L267.0,140.7L267.3,139.5L267.6,142.3L267.9,141.3L268.2,142.3L268.5,138.9L268.8,141.2L269.1,138.8L269.4,140.1L269.7,141.8L270.0,140.4L270.3,138.7L270.6,137.1L270.9,138.7L271.2,138.1L271.5,138.1L271.8,140.9L272.1,139.0L272.4,143.5L272.7,144.8L273.0,142.5L273.3,145.6L273.6,139.3L273.9,137.6L274.2,139.9L274.5,137.4L274.8,139.9L275.1,141.2L275.4,141.5L275.7,142.5L276.0,140.6L276.3,141.9L276.6,142.8L276.9,142.4L277.2,144.0L277.5,141.4L277.8,141.7L278.1,139.8L278.4,142.5L278.7,140.3L279.0,139.9L279.3,139.4L279.6,137.5L279.9,139.8L280.2,137.1L280.5,140.5L280.8,137.6L281.1,141.7L281.4,138.3L281.7,139.5L282.0,139.3L282.3,137.7L282.6,137.6L282.9,136.0L283.2,139.3L283.5,136.8L283.8,143.1L284.1,138.7L284.4,140.0L284.7,140.7L285.0,140.2L285.3,141.7L285.6,139.2L285.9,138.5L286.2,139.8L286.5,143.2L286.8,142.8L287.1,137.6L287.4,140.7L287.7,139.0L288.0,140.4L288.3,140.8L288.6,140.3L288.9,140.5L289.2,142.7L289.5,136.5L289.8,140.2L290.1,139.9L290.4,141.5L290.7,140.6L291.0,142.0L291.3,140.0L291.6,140.5L291.9,136.8L292.2,140.3L292.5,138.3L292.8,141.6L293.1,144.6L293.4,141.0L293.7,141.7L294.0,142.1L294.3,143.1L294.6,141.8L294.9,142.6L295.2,139.3L295.5,140.2L295.8,137.5L296.1,143.9L296.4,138.3L296.7,142.4L297.0,140.7L297.3,141.2L297.6,138.9L297.9,140.8L298.2,140.6L298.5,141.7L298.8,139.8L299.1,141.1L299.4,139.0L299.7,143.3L300.0,139.4L300.3,147.5L300.6,140.4L300.9,140.1L301.2,141.3L301.5,140.9L301.8,142.8L302.1,143.0L302.4,139.2L302.7,138.8L303.0,138.2L303.3,140.0L303.6,140.8L303.9,140.5L304.2,139.3L304.5,140.0L304.8,141.5L305.1,142.7L305.4,141.1L305.7,143.8L306.0,141.4L306.3,142.0L306.6,143.6L306.9,139.1L307.2,137.4L307.5,139.0L307.8,141.2L308.1,139.1L308.4,140.7L308.7,142.7L309.0,139.3L309.3,142.6L309.6,142.5L309.9,138.7L310.2,142.7L310.5,142.7L310.8,142.2L311.1,140.6L311.4,141.2L311.7,140.0L312.0,139.0L312.3,140.9L312.6,142.5L312.9,140.0L313.2,143.8L313.5,140.1L313.8,141.1L314.1,138.1L314.4,143.5L314.7,142.2L315.0,143.3L315.3,138.8L315.6,143.1L315.9,141.4L316.2,139.3L316.5,139.6L316.8,137.8L317.1,140.2L317.4,141.6L317.7,138.2" fill="none" stroke="#000" stroke-width="1.9" stroke-linejoin="round"/>
<path d="M42.0,204.2L42.3,205.9L42.6,205.6L42.9,205.3L43.2,206.0L43.5,206.1L43.8,209.2L44.1,206.4L44.4,203.5L44.7,206.0L45.0,208.0L45.3,208.7L45.6,208.3L45.9,206.2L46.2,204.5L46.5,208.9L46.8,203.4L47.1,202.2L47.4,200.2L47.7,208.1L48.0,204.3L48.3,201.7L48.6,206.7L48.9,205.8L49.2,201.6L49.5,205.4L49.8,204.0L50.1,204.8L50.4,206.1L50.7,202.6L51.0,207.3L51.3,202.9L51.6,201.8L51.9,204.9L52.2,201.5L52.5,202.5L52.8,204.2L53.1,201.8L53.4,200.4L53.7,203.6L54.0,202.9L54.3,201.8L54.6,204.0L54.9,200.0L55.2,203.0L55.5,199.8L55.8,203.0L56.1,200.0L56.4,203.0L56.7,201.6L57.0,200.4L57.3,201.3L57.6,200.2L57.9,202.3L58.2,199.6L58.5,200.8L58.8,198.6L59.1,198.2L59.4,197.7L59.7,196.0L60.0,199.1L60.3,198.9L60.6,198.9L60.9,195.6L61.2,197.7L61.5,200.6L61.8,199.6L62.1,197.2L62.4,197.6L62.7,197.7L63.0,199.2L63.3,199.8L63.6,197.0L63.9,196.4L64.2,196.0L64.5,196.2L64.8,198.9L65.1,194.5L65.4,196.8L65.7,193.5L66.0,193.5L66.3,191.4L66.6,193.1L66.9,195.8L67.2,195.1L67.5,193.4L67.8,192.7L68.1,194.5L68.4,190.9L68.7,189.8L69.0,190.5L69.3,190.6L69.6,187.7L69.9,189.2L70.2,193.9L70.5,190.5L70.8,190.3L71.1,189.8L71.4,192.3L71.7,191.9L72.0,190.7L72.3,190.3L72.6,186.7L72.9,187.6L73.2,189.8L73.5,189.1L73.8,189.1L74.1,187.7L74.4,191.7L74.7,189.6L75.0,185.3L75.3,188.8L75.6,188.2L75.9,186.8L76.2,186.8L76.5,187.9L76.8,190.4L77.1,186.0L77.4,186.9L77.7,186.9L78.0,184.0L78.3,187.1L78.6,185.4L78.9,186.9L79.2,186.6L79.5,189.2L79.8,184.8L80.1,184.5L80.4,186.3L80.7,188.7L81.0,184.9L81.3,184.9L81.6,185.0L81.9,184.8L82.2,182.3L82.5,181.8L82.8,181.6L83.1,182.0L83.4,182.8L83.7,180.9L84.0,181.0L84.3,183.0L84.6,182.2L84.9,182.6L85.2,179.4L85.5,184.5L85.8,180.7L86.1,181.0L86.4,179.0L86.7,181.7L87.0,182.5L87.3,179.8L87.6,179.1L87.9,179.0L88.2,183.2L88.5,179.5L88.8,177.4L89.1,177.9L89.4,178.5L89.7,176.6L90.0,177.8L90.3,177.6L90.6,177.4L90.9,179.5L91.2,181.4L91.5,179.1L91.8,178.5L92.1,177.4L92.4,179.5L92.7,178.9L93.0,179.5L93.3,181.6L93.6,181.4L93.9,182.1L94.2,180.9L94.5,178.9L94.8,181.4L95.1,180.1L95.4,181.8L95.7,177.8L96.0,179.1L96.3,180.5L96.6,183.6L96.9,181.9L97.2,179.0L97.5,178.6L97.8,180.3L98.1,176.9L98.4,178.7L98.7,179.8L99.0,179.8L99.3,181.8L99.6,182.8L99.9,181.7L100.2,178.8L100.5,183.2L100.8,182.7L101.1,179.4L101.4,180.4L101.7,179.5L102.0,184.4L102.3,180.4L102.6,181.0L102.9,181.1L103.2,181.9L103.5,179.7L103.8,179.3L104.1,181.9L104.4,182.6L104.7,180.1L105.0,181.6L105.3,179.1L105.6,183.6L105.9,180.2L106.2,182.9L106.5,182.8L106.8,182.3L107.1,182.3L107.4,179.3L107.7,180.9L108.0,178.5L108.3,179.8L108.6,179.2L108.9,184.9L109.2,180.8L109.5,182.0L109.8,178.8L110.1,182.8L110.4,179.4L110.7,179.5L111.0,179.2L111.3,177.1L111.6,176.1L111.9,179.1L112.2,175.9L112.5,176.1L112.8,178.0L113.1,172.2L113.4,173.8L113.7,169.0L114.0,165.7L114.3,168.3L114.6,169.3L114.9,170.9L115.2,169.7L115.5,170.6L115.8,175.8L116.1,179.7L116.4,179.7L116.7,177.3L117.0,178.0L117.3,179.6L117.6,181.1L117.9,180.6L118.2,180.9L118.5,181.0L118.8,176.3L119.1,179.0L119.4,181.0L119.7,178.1L120.0,183.5L120.3,178.6L120.6,181.0L120.9,181.5L121.2,181.3L121.5,177.7L121.8,179.1L122.1,181.9L122.4,179.6L122.7,181.2L123.0,175.3L123.3,180.2L123.6,180.0L123.9,180.0L124.2,177.4L124.5,179.3L124.8,180.6L125.1,180.7L125.4,179.0L125.7,183.0L126.0,182.7L126.3,179.8L126.6,182.4L126.9,178.3L127.2,180.7L127.5,183.3L127.8,181.7L128.1,180.5L128.4,181.3L128.7,180.4L129.0,180.2L129.3,179.5L129.6,181.5L129.9,181.3L130.2,181.4L130.5,179.1L130.8,181.8L131.1,182.8L131.4,180.0L131.7,184.4L132.0,179.4L132.3,179.0L132.6,179.0L132.9,177.5L133.2,176.9L133.5,178.0L133.8,180.2L134.1,178.8L134.4,182.8L134.7,179.2L135.0,178.8L135.3,177.9L135.6,180.1L135.9,179.5L136.2,180.8L136.5,181.9L136.8,183.5L137.1,179.2L137.4,181.7L137.7,180.2L138.0,180.2L138.3,178.6L138.6,180.6L138.9,181.0L139.2,180.6L139.5,178.4L139.8,180.6L140.1,178.2L140.4,177.0L140.7,181.0L141.0,179.9L141.3,177.2L141.6,178.3L141.9,179.8L142.2,181.2L142.5,179.0L142.8,178.0L143.1,177.2L143.4,176.0L143.7,178.6L144.0,177.6L144.3,179.8L144.6,177.8L144.9,181.3L145.2,178.4L145.5,177.9L145.8,176.9L146.1,175.8L146.4,178.1L146.7,173.8L147.0,174.4L147.3,175.0L147.6,176.6L147.9,174.1L148.2,178.5L148.5,173.6L148.8,174.7L149.1,176.2L149.4,176.1L149.7,173.8L150.0,177.5L150.3,179.4L150.6,176.1L150.9,177.9L151.2,178.6L151.5,182.5L151.8,179.0L152.1,180.3L152.4,179.4L152.7,181.1L153.0,180.0L153.3,179.8L153.6,180.5L153.9,182.6L154.2,179.6L154.5,181.6L154.8,179.8L155.1,181.7L155.4,177.6L155.7,178.4L156.0,181.8L156.3,183.7L156.6,180.3L156.9,177.9L157.2,183.5L157.5,182.9L157.8,180.5L158.1,184.3L158.4,184.3L158.7,180.3L159.0,180.1L159.3,182.2L159.6,182.3L159.9,182.8L160.2,181.7L160.5,183.7L160.8,179.9L161.1,178.9L161.4,179.7L161.7,179.4L162.0,181.0L162.3,179.5L162.6,182.6L162.9,183.1L163.2,183.9L163.5,179.8L163.8,178.1L164.1,179.3L164.4,179.8L164.7,178.5L165.0,180.3L165.3,180.8L165.6,180.9L165.9,179.0L166.2,182.5L166.5,179.8L166.8,177.7L167.1,181.0L167.4,183.5L167.7,180.9L168.0,178.3L168.3,179.6L168.6,182.8L168.9,181.1L169.2,181.2L169.5,178.0L169.8,179.7L170.1,178.6L170.4,181.9L170.7,179.8L171.0,181.9L171.3,177.7L171.6,180.3L171.9,182.3L172.2,184.2L172.5,183.4L172.8,180.4L173.1,186.7L173.4,181.2L173.7,180.5L174.0,180.0L174.3,178.5L174.6,180.0L174.9,179.3L175.2,180.3L175.5,180.0L175.8,181.1L176.1,182.7L176.4,180.5L176.7,178.6L177.0,181.5L177.3,180.4L177.6,181.7L177.9,178.4L178.2,180.5L178.5,179.2L178.8,177.7L179.1,179.1L179.4,179.8L179.7,180.5L180.0,178.6L180.3,181.9L180.6,182.6L180.9,181.8L181.2,179.9L181.5,178.7L181.8,181.5L182.1,178.1L182.4,181.7L182.7,177.1L183.0,176.5L183.3,181.4L183.6,178.8L183.9,182.9L184.2,179.7L184.5,180.5L184.8,182.0L185.1,183.1L185.4,182.6L185.7,181.0L186.0,180.8L186.3,182.0L186.6,179.4L186.9,179.5L187.2,179.1L187.5,185.7L187.8,183.3L188.1,181.5L188.4,179.7L188.7,181.1L189.0,177.6L189.3,179.2L189.6,181.3L189.9,180.2L190.2,178.2L190.5,180.2L190.8,180.5L191.1,183.5L191.4,182.7L191.7,181.7L192.0,184.3L192.3,179.8L192.6,182.7L192.9,181.1L193.2,180.0L193.5,180.3L193.8,181.6L194.1,183.0L194.4,177.6L194.7,181.5L195.0,182.3L195.3,178.7L195.6,178.9L195.9,182.4L196.2,178.3L196.5,178.3L196.8,180.3L197.1,180.3L197.4,181.0L197.7,181.9L198.0,183.6L198.3,182.0L198.6,182.8L198.9,180.5L199.2,182.1L199.5,180.1L199.8,183.5L200.1,181.4L200.4,182.7L200.7,180.0L201.0,179.6L201.3,182.4L201.6,180.7L201.9,178.0L202.2,180.0L202.5,178.8L202.8,182.7L203.1,179.9L203.4,181.0L203.7,180.6L204.0,181.9L204.3,180.4L204.6,180.8L204.9,181.0L205.2,178.5L205.5,180.3L205.8,178.9L206.1,178.1L206.4,179.5L206.7,175.9L207.0,178.6L207.3,179.9L207.6,178.6L207.9,180.1L208.2,176.4L208.5,178.2L208.8,173.9L209.1,176.7L209.4,177.8L209.7,182.2L210.0,182.9L210.3,175.3L210.6,177.5L210.9,177.1L211.2,181.4L211.5,179.9L211.8,178.5L212.1,180.4L212.4,180.3L212.7,175.5L213.0,177.4L213.3,175.8L213.6,175.9L213.9,171.2L214.2,174.4L214.5,170.7L214.8,175.3L215.1,173.2L215.4,177.5L215.7,178.1L216.0,172.9L216.3,178.7L216.6,175.3L216.9,178.0L217.2,177.3L217.5,176.6L217.8,177.3L218.1,177.2L218.4,181.0L218.7,178.0L219.0,176.4L219.3,179.6L219.6,177.9L219.9,179.3L220.2,177.5L220.5,179.8L220.8,177.7L221.1,177.7L221.4,179.1L221.7,180.2L222.0,178.4L222.3,178.2L222.6,183.1L222.9,178.8L223.2,174.2L223.5,179.5L223.8,178.0L224.1,176.6L224.4,181.5L224.7,181.7L225.0,180.4L225.3,179.8L225.6,180.7L225.9,183.0L226.2,178.7L226.5,182.3L226.8,180.0L227.1,180.0L227.4,180.5L227.7,177.5L228.0,179.3L228.3,178.0L228.6,172.9L228.9,178.3L229.2,178.9L229.5,177.8L229.8,180.4L230.1,176.7L230.4,178.9L230.7,178.1L231.0,178.8L231.3,175.0L231.6,177.6L231.9,177.8L232.2,181.9L232.5,178.1L232.8,180.0L233.1,179.5L233.4,176.0L233.7,177.0L234.0,179.6L234.3,180.2L234.6,181.1L234.9,177.8L235.2,175.4L235.5,177.4L235.8,174.8L236.1,179.0L236.4,175.3L236.7,174.2L237.0,176.6L237.3,173.4L237.6,169.6L237.9,172.0L238.2,169.8L238.5,168.8L238.8,169.4L239.1,168.9L239.4,173.5L239.7,172.1L240.0,173.5L240.3,176.7L240.6,175.4L240.9,174.9L241.2,176.7L241.5,176.3L241.8,178.4L242.1,178.1L242.4,181.0L242.7,179.2L243.0,177.9L243.3,178.6L243.6,175.4L243.9,178.6L244.2,180.1L244.5,181.8L244.8,179.2L245.1,180.8L245.4,174.9L245.7,180.4L246.0,179.1L246.3,180.1L246.6,176.7L246.9,178.3L247.2,178.0L247.5,177.4L247.8,178.6L248.1,182.2L248.4,177.1L248.7,179.7L249.0,181.0L249.3,181.6L249.6,176.7L249.9,175.9L250.2,174.0L250.5,177.6L250.8,177.2L251.1,177.5L251.4,177.7L251.7,175.6L252.0,180.7L252.3,180.5L252.6,176.8L252.9,177.6L253.2,176.6L253.5,176.6L253.8,181.2L254.1,180.0L254.4,176.4L254.7,182.0L255.0,179.2L255.3,178.5L255.6,176.5L255.9,176.6L256.2,177.6L256.5,183.0L256.8,175.8L257.1,176.2L257.4,179.5L257.7,178.1L258.0,176.3L258.3,182.6L258.6,177.4L258.9,176.7L259.2,177.8L259.5,179.3L259.8,179.4L260.1,179.9L260.4,178.4L260.7,176.5L261.0,180.2L261.3,177.6L261.6,177.0L261.9,179.3L262.2,180.5L262.5,177.3L262.8,177.4L263.1,178.2L263.4,177.3L263.7,178.2L264.0,179.9L264.3,179.5L264.6,173.4L264.9,179.8L265.2,179.2L265.5,175.7L265.8,180.3L266.1,176.0L266.4,180.8L266.7,177.3L267.0,178.3L267.3,177.7L267.6,178.4L267.9,175.4L268.2,180.7L268.5,179.4L268.8,178.4L269.1,179.7L269.4,177.6L269.7,180.9L270.0,179.3L270.3,180.3L270.6,175.4L270.9,177.6L271.2,173.2L271.5,177.5L271.8,176.1L272.1,176.6L272.4,179.5L272.7,178.5L273.0,180.9L273.3,176.7L273.6,176.7L273.9,178.0L274.2,173.4L274.5,175.4L274.8,176.8L275.1,173.0L275.4,177.5L275.7,175.1L276.0,178.1L276.3,175.8L276.6,180.3L276.9,174.3L277.2,179.2L277.5,174.0L277.8,179.2L278.1,176.5L278.4,173.1L278.7,178.2L279.0,176.4L279.3,176.9L279.6,176.7L279.9,178.3L280.2,175.2L280.5,176.6L280.8,173.4L281.1,174.4L281.4,176.3L281.7,177.2L282.0,175.7L282.3,175.6L282.6,177.0L282.9,177.0L283.2,175.5L283.5,181.9L283.8,176.3L284.1,174.8L284.4,176.9L284.7,177.1L285.0,176.2L285.3,175.0L285.6,175.7L285.9,177.3L286.2,175.9L286.5,175.4L286.8,177.3L287.1,177.1L287.4,173.8L287.7,180.0L288.0,177.6L288.3,178.6L288.6,178.1L288.9,173.8L289.2,180.1L289.5,173.3L289.8,174.7L290.1,177.0L290.4,175.4L290.7,177.8L291.0,178.5L291.3,176.7L291.6,179.7L291.9,174.0L292.2,177.7L292.5,177.9L292.8,179.7L293.1,178.4L293.4,174.5L293.7,178.4L294.0,176.7L294.3,178.1L294.6,178.1L294.9,179.0L295.2,176.1L295.5,177.4L295.8,177.8L296.1,178.0L296.4,178.0L296.7,173.3L297.0,177.7L297.3,179.2L297.6,176.3L297.9,178.4L298.2,176.8L298.5,178.0L298.8,177.1L299.1,175.3L299.4,177.0L299.7,178.1L300.0,175.2L300.3,177.5L300.6,177.2L300.9,175.7L301.2,178.9L301.5,175.4L301.8,176.7L302.1,172.2L302.4,175.8L302.7,173.8L303.0,176.9L303.3,175.7L303.6,178.7L303.9,180.6L304.2,175.3L304.5,178.6L304.8,178.1L305.1,177.2L305.4,176.5L305.7,177.6L306.0,178.7L306.3,179.1L306.6,179.6L306.9,177.6L307.2,179.5L307.5,179.2L307.8,179.6L308.1,180.2L308.4,179.3L308.7,179.8L309.0,177.1L309.3,175.0L309.6,176.3L309.9,179.2L310.2,178.0L310.5,177.1L310.8,179.2L311.1,177.8L311.4,179.4L311.7,174.8L312.0,175.9L312.3,178.4L312.6,179.0L312.9,180.0L313.2,177.8L313.5,179.8L313.8,179.5L314.1,177.7L314.4,180.1L314.7,178.3L315.0,178.5L315.3,175.8L315.6,176.8L315.9,176.8L316.2,179.2L316.5,176.4L316.8,174.9L317.1,177.6L317.4,182.7L317.7,177.9" fill="none" stroke="#000" stroke-width="1.9" stroke-linejoin="round"/>
<path d="M42.0,228.4L42.3,230.7L42.6,230.4L42.9,230.9L43.2,229.2L43.5,229.2L43.8,227.5L44.1,230.4L44.4,230.8L44.7,228.6L45.0,230.1L45.3,228.3L45.6,229.0L45.9,227.2L46.2,229.4L46.5,231.7L46.8,230.3L47.1,226.5L47.4,229.8L47.7,227.3L48.0,229.6L48.3,228.6L48.6,228.9L48.9,227.4L49.2,228.6L49.5,226.6L49.8,227.7L50.1,227.7L50.4,224.0L50.7,225.7L51.0,227.7L51.3,224.8L51.6,227.0L51.9,227.5L52.2,227.8L52.5,228.4L52.8,228.7L53.1,229.1L53.4,226.2L53.7,226.6L54.0,226.1L54.3,223.1L54.6,224.4L54.9,227.3L55.2,227.2L55.5,228.0L55.8,226.9L56.1,226.7L56.4,228.1L56.7,222.9L57.0,222.6L57.3,225.5L57.6,226.4L57.9,227.0L58.2,227.1L58.5,226.1L58.8,223.4L59.1,225.7L59.4,224.8L59.7,222.3L60.0,221.7L60.3,224.1L60.6,225.8L60.9,224.8L61.2,227.2L61.5,224.1L61.8,222.7L62.1,222.9L62.4,223.5L62.7,222.8L63.0,223.7L63.3,221.8L63.6,220.3L63.9,221.0L64.2,223.2L64.5,222.1L64.8,222.9L65.1,221.1L65.4,220.8L65.7,220.9L66.0,220.7L66.3,221.4L66.6,224.3L66.9,222.0L67.2,222.3L67.5,219.0L67.8,224.1L68.1,222.3L68.4,225.0L68.7,223.7L69.0,224.8L69.3,220.0L69.6,222.5L69.9,221.7L70.2,218.9L70.5,221.2L70.8,216.6L71.1,219.8L71.4,218.8L71.7,221.0L72.0,216.9L72.3,221.7L72.6,223.2L72.9,218.7L73.2,221.6L73.5,217.5L73.8,219.7L74.1,219.8L74.4,215.5L74.7,220.6L75.0,218.2L75.3,219.6L75.6,220.8L75.9,220.6L76.2,218.6L76.5,218.9L76.8,218.5L77.1,215.0L77.4,217.2L77.7,217.1L78.0,216.8L78.3,217.2L78.6,214.8L78.9,212.6L79.2,217.0L79.5,216.4L79.8,216.1L80.1,215.0L80.4,219.2L80.7,215.5L81.0,213.3L81.3,215.7L81.6,215.9L81.9,212.4L82.2,215.8L82.5,210.7L82.8,213.6L83.1,216.4L83.4,216.6L83.7,214.6L84.0,215.3L84.3,212.4L84.6,213.0L84.9,214.4L85.2,210.1L85.5,213.2L85.8,213.6L86.1,214.7L86.4,214.3L86.7,214.9L87.0,215.0L87.3,211.3L87.6,211.0L87.9,210.4L88.2,208.1L88.5,210.3L88.8,211.8L89.1,210.5L89.4,208.1L89.7,210.2L90.0,209.1L90.3,209.7L90.6,211.1L90.9,208.2L91.2,208.7L91.5,211.4L91.8,216.1L92.1,212.5L92.4,213.0L92.7,214.5L93.0,210.4L93.3,207.9L93.6,209.4L93.9,209.5L94.2,214.3L94.5,211.3L94.8,211.0L95.1,211.1L95.4,211.5L95.7,211.7L96.0,211.6L96.3,214.2L96.6,212.9L96.9,209.9L97.2,214.7L97.5,214.1L97.8,212.2L98.1,212.6L98.4,211.1L98.7,215.9L99.0,213.9L99.3,213.2L99.6,212.1L99.9,214.9L100.2,214.3L100.5,213.7L100.8,212.6L101.1,215.7L101.4,211.3L101.7,213.9L102.0,213.8L102.3,209.8L102.6,213.3L102.9,214.9L103.2,213.1L103.5,210.9L103.8,214.7L104.1,216.3L104.4,213.4L104.7,213.4L105.0,211.7L105.3,212.8L105.6,213.7L105.9,210.8L106.2,211.6L106.5,213.2L106.8,212.0L107.1,212.7L107.4,212.0L107.7,213.5L108.0,210.4L108.3,210.6L108.6,208.9L108.9,208.7L109.2,210.5L109.5,215.9L109.8,214.0L110.1,209.9L110.4,215.2L110.7,213.0L111.0,210.0L111.3,211.3L111.6,208.3L111.9,207.7L112.2,204.7L112.5,204.2L112.8,199.7L113.1,203.0L113.4,201.9L113.7,197.4L114.0,196.4L114.3,196.1L114.6,195.4L114.9,196.7L115.2,199.9L115.5,202.4L115.8,202.6L116.1,206.4L116.4,207.0L116.7,206.6L117.0,208.9L117.3,206.5L117.6,208.5L117.9,211.9L118.2,212.8L118.5,213.9L118.8,214.4L119.1,209.6L119.4,212.7L119.7,209.9L120.0,212.7L120.3,211.9L120.6,214.1L120.9,212.7L121.2,212.9L121.5,211.8L121.8,212.8L122.1,214.5L122.4,213.2L122.7,212.2L123.0,209.3L123.3,209.2L123.6,211.9L123.9,212.7L124.2,213.1L124.5,212.9L124.8,211.1L125.1,209.6L125.4,213.3L125.7,212.6L126.0,213.2L126.3,208.6L126.6,212.4L126.9,213.0L127.2,210.4L127.5,210.6L127.8,210.3L128.1,211.1L128.4,212.0L128.7,210.8L129.0,213.6L129.3,212.4L129.6,211.1L129.9,213.0L130.2,212.0L130.5,209.7L130.8,214.0L131.1,211.9L131.4,215.2L131.7,213.0L132.0,215.0L132.3,213.7L132.6,209.9L132.9,215.5L133.2,211.8L133.5,212.9L133.8,211.4L134.1,212.7L134.4,218.2L134.7,214.5L135.0,207.7L135.3,216.5L135.6,213.5L135.9,211.7L136.2,212.8L136.5,212.1L136.8,210.7L137.1,214.2L137.4,212.3L137.7,214.3L138.0,213.2L138.3,212.5L138.6,212.8L138.9,211.2L139.2,210.7L139.5,213.7L139.8,211.9L140.1,213.2L140.4,212.2L140.7,211.2L141.0,213.6L141.3,210.5L141.6,210.0L141.9,211.7L142.2,214.0L142.5,213.4L142.8,210.4L143.1,210.2L143.4,210.6L143.7,209.4L144.0,211.5L144.3,212.7L144.6,210.5L144.9,207.9L145.2,207.9L145.5,208.3L145.8,209.4L146.1,210.4L146.4,205.8L146.7,208.2L147.0,208.1L147.3,211.5L147.6,205.4L147.9,208.1L148.2,209.8L148.5,209.7L148.8,211.0L149.1,210.1L149.4,211.3L149.7,210.2L150.0,209.9L150.3,206.8L150.6,213.8L150.9,207.1L151.2,209.7L151.5,209.7L151.8,208.2L152.1,206.8L152.4,210.7L152.7,207.7L153.0,213.2L153.3,216.0L153.6,214.1L153.9,207.5L154.2,213.0L154.5,212.1L154.8,212.3L155.1,214.1L155.4,211.4L155.7,213.3L156.0,211.6L156.3,210.9L156.6,213.8L156.9,214.3L157.2,211.2L157.5,215.1L157.8,211.7L158.1,210.9L158.4,211.8L158.7,212.4L159.0,214.9L159.3,214.8L159.6,212.9L159.9,215.0L160.2,210.5L160.5,212.8L160.8,212.5L161.1,208.1L161.4,213.2L161.7,211.9L162.0,215.3L162.3,212.5L162.6,216.1L162.9,213.3L163.2,209.8L163.5,214.2L163.8,213.2L164.1,212.1L164.4,211.9L164.7,215.6L165.0,212.4L165.3,215.0L165.6,214.8L165.9,213.4L166.2,212.1L166.5,213.4L166.8,212.6L167.1,210.8L167.4,213.8L167.7,213.8L168.0,212.9L168.3,209.2L168.6,213.3L168.9,211.6L169.2,213.6L169.5,211.8L169.8,211.7L170.1,211.9L170.4,211.8L170.7,215.9L171.0,210.1L171.3,209.5L171.6,211.8L171.9,212.2L172.2,209.6L172.5,210.0L172.8,210.7L173.1,212.0L173.4,211.8L173.7,213.4L174.0,211.8L174.3,210.5L174.6,211.8L174.9,213.0L175.2,213.4L175.5,207.7L175.8,212.9L176.1,213.0L176.4,214.1L176.7,211.2L177.0,211.4L177.3,208.5L177.6,213.0L177.9,214.2L178.2,210.4L178.5,212.9L178.8,212.1L179.1,215.2L179.4,212.2L179.7,213.4L180.0,213.2L180.3,211.7L180.6,212.7L180.9,215.4L181.2,212.5L181.5,211.4L181.8,214.8L182.1,215.8L182.4,214.2L182.7,212.3L183.0,211.2L183.3,212.3L183.6,213.0L183.9,215.9L184.2,214.6L184.5,209.3L184.8,212.6L185.1,214.0L185.4,213.1L185.7,212.8L186.0,211.8L186.3,214.5L186.6,214.9L186.9,214.0L187.2,211.6L187.5,210.0L187.8,215.6L188.1,210.1L188.4,211.7L188.7,209.8L189.0,213.4L189.3,211.1L189.6,211.9L189.9,216.3L190.2,213.2L190.5,211.9L190.8,208.5L191.1,213.8L191.4,214.1L191.7,213.9L192.0,212.4L192.3,209.8L192.6,211.0L192.9,213.2L193.2,213.3L193.5,213.6L193.8,216.3L194.1,214.8L194.4,213.2L194.7,213.3L195.0,209.4L195.3,211.5L195.6,213.6L195.9,208.4L196.2,212.3L196.5,213.4L196.8,211.2L197.1,212.5L197.4,209.9L197.7,214.5L198.0,210.1L198.3,206.9L198.6,211.9L198.9,210.6L199.2,214.3L199.5,212.3L199.8,210.4L200.1,214.2L200.4,210.7L200.7,209.2L201.0,213.5L201.3,214.2L201.6,210.8L201.9,212.7L202.2,213.8L202.5,210.0L202.8,205.2L203.1,212.3L203.4,211.6L203.7,214.1L204.0,213.0L204.3,211.3L204.6,210.1L204.9,209.8L205.2,211.0L205.5,209.9L205.8,213.4L206.1,212.9L206.4,209.9L206.7,212.9L207.0,210.5L207.3,210.8L207.6,213.3L207.9,212.5L208.2,211.0L208.5,213.2L208.8,214.2L209.1,209.0L209.4,211.5L209.7,207.6L210.0,210.9L210.3,215.3L210.6,211.0L210.9,209.8L211.2,211.3L211.5,209.0L211.8,211.2L212.1,209.9L212.4,208.7L212.7,210.9L213.0,209.1L213.3,209.4L213.6,207.2L213.9,208.6L214.2,209.2L214.5,207.4L214.8,210.5L215.1,208.1L215.4,209.0L215.7,208.3L216.0,211.6L216.3,208.5L216.6,208.1L216.9,209.9L217.2,209.4L217.5,208.9L217.8,213.1L218.1,210.2L218.4,212.0L218.7,209.3L219.0,209.8L219.3,211.5L219.6,214.4L219.9,210.9L220.2,212.4L220.5,208.7L220.8,210.9L221.1,211.9L221.4,214.5L221.7,214.1L222.0,210.1L222.3,214.6L222.6,213.6L222.9,213.2L223.2,209.2L223.5,213.9L223.8,208.1L224.1,211.7L224.4,211.5L224.7,212.3L225.0,211.8L225.3,210.2L225.6,214.3L225.9,207.6L226.2,210.6L226.5,211.7L226.8,213.9L227.1,212.8L227.4,210.1L227.7,216.9L228.0,212.5L228.3,215.1L228.6,216.2L228.9,211.2L229.2,212.4L229.5,209.2L229.8,210.8L230.1,214.6L230.4,211.7L230.7,214.2L231.0,212.4L231.3,213.8L231.6,214.3L231.9,217.2L232.2,214.1L232.5,213.2L232.8,213.5L233.1,210.8L233.4,209.1L233.7,206.6L234.0,212.0L234.3,211.0L234.6,210.0L234.9,212.2L235.2,211.4L235.5,210.5L235.8,212.9L236.1,212.1L236.4,212.3L236.7,211.7L237.0,209.3L237.3,209.4L237.6,207.6L237.9,205.1L238.2,207.0L238.5,207.4L238.8,205.1L239.1,207.1L239.4,208.3L239.7,206.1L240.0,208.0L240.3,210.0L240.6,210.7L240.9,213.3L241.2,209.6L241.5,215.7L241.8,210.8L242.1,214.3L242.4,211.8L242.7,215.3L243.0,211.6L243.3,210.8L243.6,209.2L243.9,210.6L244.2,212.7L244.5,212.1L244.8,212.3L245.1,211.5L245.4,211.4L245.7,213.1L246.0,211.7L246.3,210.6L246.6,214.2L246.9,212.2L247.2,212.2L247.5,212.9L247.8,211.0L248.1,210.9L248.4,210.2L248.7,214.0L249.0,209.8L249.3,212.9L249.6,209.3L249.9,209.3L250.2,213.2L250.5,211.2L250.8,212.5L251.1,211.5L251.4,211.6L251.7,213.2L252.0,212.2L252.3,213.5L252.6,213.6L252.9,210.2L253.2,210.0L253.5,215.0L253.8,215.0L254.1,211.2L254.4,214.1L254.7,209.7L255.0,208.7L255.3,213.0L255.6,210.3L255.9,208.2L256.2,208.9L256.5,213.2L256.8,214.5L257.1,211.1L257.4,215.1L257.7,209.8L258.0,206.7L258.3,210.8L258.6,213.6L258.9,211.4L259.2,210.1L259.5,212.0L259.8,210.3L260.1,211.2L260.4,208.7L260.7,212.6L261.0,209.7L261.3,210.3L261.6,214.9L261.9,211.7L262.2,214.1L262.5,209.0L262.8,211.5L263.1,212.5L263.4,214.1L263.7,215.1L264.0,214.1L264.3,214.7L264.6,213.1L264.9,214.6L265.2,214.5L265.5,213.1L265.8,214.2L266.1,212.2L266.4,211.0L266.7,210.5L267.0,211.2L267.3,213.0L267.6,208.4L267.9,213.4L268.2,211.1L268.5,213.6L268.8,210.1L269.1,212.3L269.4,209.1L269.7,210.4L270.0,211.5L270.3,214.2L270.6,212.1L270.9,212.1L271.2,209.3L271.5,212.5L271.8,210.6L272.1,213.3L272.4,212.5L272.7,212.9L273.0,206.9L273.3,208.7L273.6,209.9L273.9,210.6L274.2,210.9L274.5,211.1L274.8,212.3L275.1,213.6L275.4,211.4L275.7,210.1L276.0,212.4L276.3,212.9L276.6,212.3L276.9,209.6L277.2,212.9L277.5,211.8L277.8,212.0L278.1,209.0L278.4,213.4L278.7,212.0L279.0,213.0L279.3,212.8L279.6,210.0L279.9,211.3L280.2,212.9L280.5,211.3L280.8,212.3L281.1,210.4L281.4,209.5L281.7,212.0L282.0,207.9L282.3,213.9L282.6,210.8L282.9,215.4L283.2,210.6L283.5,211.3L283.8,209.2L284.1,208.8L284.4,212.1L284.7,212.6L285.0,208.7L285.3,211.8L285.6,210.0L285.9,209.4L286.2,211.5L286.5,213.6L286.8,212.1L287.1,211.4L287.4,212.9L287.7,211.1L288.0,213.9L288.3,210.9L288.6,211.3L288.9,208.2L289.2,210.9L289.5,208.8L289.8,214.2L290.1,210.3L290.4,211.2L290.7,211.2L291.0,210.1L291.3,210.4L291.6,212.5L291.9,213.9L292.2,212.8L292.5,211.9L292.8,210.5L293.1,212.1L293.4,212.2L293.7,215.1L294.0,212.2L294.3,210.4L294.6,210.0L294.9,211.9L295.2,211.4L295.5,214.4L295.8,211.8L296.1,212.2L296.4,209.0L296.7,207.9L297.0,214.9L297.3,214.7L297.6,212.2L297.9,212.7L298.2,210.5L298.5,214.6L298.8,217.8L299.1,212.0L299.4,213.0L299.7,213.8L300.0,211.3L300.3,212.0L300.6,212.9L300.9,210.2L301.2,212.9L301.5,210.1L301.8,211.5L302.1,210.6L302.4,212.2L302.7,209.7L303.0,208.0L303.3,210.4L303.6,211.6L303.9,214.0L304.2,211.8L304.5,213.5L304.8,212.0L305.1,212.0L305.4,211.5L305.7,209.1L306.0,209.1L306.3,207.6L306.6,210.1L306.9,213.9L307.2,208.5L307.5,212.6L307.8,214.9L308.1,211.9L308.4,213.3L308.7,211.2L309.0,210.2L309.3,210.4L309.6,210.3L309.9,211.4L310.2,210.8L310.5,209.1L310.8,212.4L311.1,211.8L311.4,210.2L311.7,213.5L312.0,215.3L312.3,215.1L312.6,210.2L312.9,213.1L313.2,211.6L313.5,213.9L313.8,215.3L314.1,207.5L314.4,213.7L314.7,209.6L315.0,213.3L315.3,214.6L315.6,214.2L315.9,210.1L316.2,214.4L316.5,210.2L316.8,211.6L317.1,209.5L317.4,211.3L317.7,210.7" fill="none" stroke="#000" stroke-width="1.9" stroke-linejoin="round"/>
<path d="M42.0,265.9L42.3,267.3L42.6,267.9L42.9,267.8L43.2,266.7L43.5,265.4L43.8,266.9L44.1,263.9L44.4,265.4L44.7,263.2L45.0,264.4L45.3,264.2L45.6,265.7L45.9,268.0L46.2,265.4L46.5,265.3L46.8,263.4L47.1,264.2L47.4,264.1L47.7,262.2L48.0,264.3L48.3,263.4L48.6,263.5L48.9,266.2L49.2,263.5L49.5,263.8L49.8,264.4L50.1,264.9L50.4,261.8L50.7,260.9L51.0,265.2L51.3,265.7L51.6,265.9L51.9,265.3L52.2,262.7L52.5,264.1L52.8,265.6L53.1,266.1L53.4,259.8L53.7,264.9L54.0,264.6L54.3,265.0L54.6,265.4L54.9,264.8L55.2,263.4L55.5,260.8L55.8,264.3L56.1,262.4L56.4,264.4L56.7,262.0L57.0,261.8L57.3,260.5L57.6,261.9L57.9,263.5L58.2,260.9L58.5,263.6L58.8,263.2L59.1,258.1L59.4,258.8L59.7,260.9L60.0,261.6L60.3,258.8L60.6,263.0L60.9,258.2L61.2,262.4L61.5,259.9L61.8,259.6L62.1,256.9L62.4,260.5L62.7,256.9L63.0,259.4L63.3,260.5L63.6,262.3L63.9,259.5L64.2,258.6L64.5,261.6L64.8,260.3L65.1,258.9L65.4,260.7L65.7,258.8L66.0,259.3L66.3,255.4L66.6,258.5L66.9,260.7L67.2,255.4L67.5,257.2L67.8,257.4L68.1,258.6L68.4,258.8L68.7,255.8L69.0,258.9L69.3,257.5L69.6,256.4L69.9,256.4L70.2,254.7L70.5,255.7L70.8,255.6L71.1,255.0L71.4,252.6L71.7,251.1L72.0,253.8L72.3,253.6L72.6,253.5L72.9,252.9L73.2,254.2L73.5,253.2L73.8,255.3L74.1,257.1L74.4,251.5L74.7,255.1L75.0,253.1L75.3,255.1L75.6,257.4L75.9,250.5L76.2,250.6L76.5,249.4L76.8,255.2L77.1,254.2L77.4,251.2L77.7,251.1L78.0,250.6L78.3,250.6L78.6,246.8L78.9,250.2L79.2,248.0L79.5,251.4L79.8,248.3L80.1,247.2L80.4,251.1L80.7,248.4L81.0,250.1L81.3,252.0L81.6,249.2L81.9,247.6L82.2,248.7L82.5,244.5L82.8,244.4L83.1,249.2L83.4,244.4L83.7,251.4L84.0,249.7L84.3,248.8L84.6,246.5L84.9,248.5L85.2,249.2L85.5,247.6L85.8,248.8L86.1,247.9L86.4,244.7L86.7,245.8L87.0,246.8L87.3,244.1L87.6,242.0L87.9,243.0L88.2,241.9L88.5,242.9L88.8,237.1L89.1,243.1L89.4,241.8L89.7,241.2L90.0,241.9L90.3,239.3L90.6,241.7L90.9,244.8L91.2,241.2L91.5,244.8L91.8,240.7L92.1,240.3L92.4,244.9L92.7,240.3L93.0,241.6L93.3,245.6L93.6,246.1L93.9,246.8L94.2,242.5L94.5,244.6L94.8,243.5L95.1,250.4L95.4,247.2L95.7,245.6L96.0,244.3L96.3,242.6L96.6,246.0L96.9,244.6L97.2,244.5L97.5,244.3L97.8,240.6L98.1,243.1L98.4,245.2L98.7,246.6L99.0,247.6L99.3,246.0L99.6,244.6L99.9,242.6L100.2,242.9L100.5,247.2L100.8,246.1L101.1,244.8L101.4,245.4L101.7,248.5L102.0,247.1L102.3,249.2L102.6,244.9L102.9,244.6L103.2,244.9L103.5,245.0L103.8,245.9L104.1,245.1L104.4,248.0L104.7,240.8L105.0,244.8L105.3,244.3L105.6,244.2L105.9,244.1L106.2,244.6L106.5,243.1L106.8,243.5L107.1,247.9L107.4,246.7L107.7,246.3L108.0,244.5L108.3,242.7L108.6,247.4L108.9,242.2L109.2,243.5L109.5,243.6L109.8,241.6L110.1,240.7L110.4,243.6L110.7,241.1L111.0,242.6L111.3,245.6L111.6,240.0L111.9,239.3L112.2,239.8L112.5,239.0L112.8,238.6L113.1,236.1L113.4,233.4L113.7,228.7L114.0,231.8L114.3,229.6L114.6,230.0L114.9,227.6L115.2,233.2L115.5,236.0L115.8,236.2L116.1,238.3L116.4,237.9L116.7,236.2L117.0,243.1L117.3,239.5L117.6,243.5L117.9,238.5L118.2,240.4L118.5,243.5L118.8,240.2L119.1,241.3L119.4,243.9L119.7,244.2L120.0,246.8L120.3,244.0L120.6,242.5L120.9,244.7L121.2,240.1L121.5,243.7L121.8,240.9L122.1,244.2L122.4,243.6L122.7,240.3L123.0,245.9L123.3,244.7L123.6,242.8L123.9,241.5L124.2,242.3L124.5,242.3L124.8,242.6L125.1,241.5L125.4,241.9L125.7,240.4L126.0,245.4L126.3,245.4L126.6,245.8L126.9,242.3L127.2,243.9L127.5,243.6L127.8,241.9L128.1,242.1L128.4,240.9L128.7,241.2L129.0,241.2L129.3,239.2L129.6,243.5L129.9,242.3L130.2,244.1L130.5,243.3L130.8,245.2L131.1,244.4L131.4,240.4L131.7,242.6L132.0,242.2L132.3,242.2L132.6,240.2L132.9,241.6L133.2,241.3L133.5,242.5L133.8,242.6L134.1,237.2L134.4,241.2L134.7,240.6L135.0,243.8L135.3,244.1L135.6,243.2L135.9,244.9L136.2,243.9L136.5,244.9L136.8,242.2L137.1,241.1L137.4,245.5L137.7,242.8L138.0,243.3L138.3,244.3L138.6,245.3L138.9,242.9L139.2,243.5L139.5,246.3L139.8,243.3L140.1,242.7L140.4,238.5L140.7,240.1L141.0,242.6L141.3,242.9L141.6,241.0L141.9,243.7L142.2,243.1L142.5,239.4L142.8,243.4L143.1,242.0L143.4,241.5L143.7,244.2L144.0,245.9L144.3,243.6L144.6,242.9L144.9,242.9L145.2,241.6L145.5,241.1L145.8,240.0L146.1,238.7L146.4,242.0L146.7,240.5L147.0,239.1L147.3,238.4L147.6,239.3L147.9,239.5L148.2,235.3L148.5,241.2L148.8,238.3L149.1,237.8L149.4,240.3L149.7,240.9L150.0,240.0L150.3,243.9L150.6,242.6L150.9,240.5L151.2,242.6L151.5,241.8L151.8,243.0L152.1,242.8L152.4,245.2L152.7,245.3L153.0,242.6L153.3,246.8L153.6,244.0L153.9,242.6L154.2,244.9L154.5,241.3L154.8,242.1L155.1,241.8L155.4,243.7L155.7,245.8L156.0,242.3L156.3,241.6L156.6,243.3L156.9,245.8L157.2,243.8L157.5,244.4L157.8,243.4L158.1,247.5L158.4,240.9L158.7,243.6L159.0,242.4L159.3,243.8L159.6,246.6L159.9,247.2L160.2,241.6L160.5,242.7L160.8,242.5L161.1,241.5L161.4,242.3L161.7,241.8L162.0,241.4L162.3,245.6L162.6,243.7L162.9,244.6L163.2,244.5L163.5,243.3L163.8,242.6L164.1,245.5L164.4,244.5L164.7,242.0L165.0,243.0L165.3,245.6L165.6,240.3L165.9,244.2L166.2,243.6L166.5,243.8L166.8,241.3L167.1,243.6L167.4,244.1L167.7,245.5L168.0,241.8L168.3,244.7L168.6,248.2L168.9,243.8L169.2,243.9L169.5,245.8L169.8,240.8L170.1,245.4L170.4,242.6L170.7,240.0L171.0,242.9L171.3,243.8L171.6,246.2L171.9,243.4L172.2,242.3L172.5,245.8L172.8,243.5L173.1,243.9L173.4,245.6L173.7,242.1L174.0,242.4L174.3,241.3L174.6,240.9L174.9,242.1L175.2,241.1L175.5,241.0L175.8,246.8L176.1,244.2L176.4,245.6L176.7,243.5L177.0,245.8L177.3,242.7L177.6,245.2L177.9,243.4L178.2,244.0L178.5,244.4L178.8,244.1L179.1,240.1L179.4,244.2L179.7,246.2L180.0,244.3L180.3,242.5L180.6,243.4L180.9,245.2L181.2,244.4L181.5,244.3L181.8,242.7L182.1,241.8L182.4,238.9L182.7,242.6L183.0,244.8L183.3,244.8L183.6,247.2L183.9,244.7L184.2,242.2L184.5,241.3L184.8,245.4L185.1,246.5L185.4,243.9L185.7,247.4L186.0,244.9L186.3,242.6L186.6,245.3L186.9,246.5L187.2,243.7L187.5,244.1L187.8,239.1L188.1,243.8L188.4,244.5L188.7,243.4L189.0,244.1L189.3,243.8L189.6,241.5L189.9,245.8L190.2,245.1L190.5,245.2L190.8,242.0L191.1,245.8L191.4,246.9L191.7,243.4L192.0,247.9L192.3,243.4L192.6,248.0L192.9,242.7L193.2,243.7L193.5,243.6L193.8,244.6L194.1,237.3L194.4,246.2L194.7,242.8L195.0,244.2L195.3,248.9L195.6,244.1L195.9,242.6L196.2,247.8L196.5,246.3L196.8,244.7L197.1,246.9L197.4,245.3L197.7,245.7L198.0,244.2L198.3,245.2L198.6,244.3L198.9,240.8L199.2,248.3L199.5,243.0L199.8,241.5L200.1,243.8L200.4,244.1L200.7,241.3L201.0,242.1L201.3,242.3L201.6,242.4L201.9,243.2L202.2,244.0L202.5,244.1L202.8,244.0L203.1,244.6L203.4,243.4L203.7,241.3L204.0,241.7L204.3,245.2L204.6,241.8L204.9,241.3L205.2,245.5L205.5,242.9L205.8,243.9L206.1,242.6L206.4,243.6L206.7,241.3L207.0,243.7L207.3,244.7L207.6,241.6L207.9,243.6L208.2,241.1L208.5,244.2L208.8,243.9L209.1,241.6L209.4,242.5L209.7,242.7L210.0,238.3L210.3,240.7L210.6,240.5L210.9,241.2L211.2,238.9L211.5,239.7L211.8,240.6L212.1,240.4L212.4,240.0L212.7,243.8L213.0,241.2L213.3,238.6L213.6,237.5L213.9,240.1L214.2,236.4L214.5,237.0L214.8,239.6L215.1,239.2L215.4,236.4L215.7,244.9L216.0,240.9L216.3,238.9L216.6,241.0L216.9,242.5L217.2,241.9L217.5,240.7L217.8,244.5L218.1,240.9L218.4,240.9L218.7,240.9L219.0,244.3L219.3,244.1L219.6,241.2L219.9,243.0L220.2,243.6L220.5,241.3L220.8,241.1L221.1,245.1L221.4,240.6L221.7,243.6L222.0,243.5L222.3,245.1L222.6,242.4L222.9,242.3L223.2,241.1L223.5,243.5L223.8,244.0L224.1,240.2L224.4,243.0L224.7,242.3L225.0,237.0L225.3,241.1L225.6,243.1L225.9,241.1L226.2,245.2L226.5,242.3L226.8,242.7L227.1,245.8L227.4,241.9L227.7,245.5L228.0,242.6L228.3,242.4L228.6,245.3L228.9,239.6L229.2,241.3L229.5,241.0L229.8,242.0L230.1,239.4L230.4,241.1L230.7,241.9L231.0,243.3L231.3,246.4L231.6,239.0L231.9,241.0L232.2,243.3L232.5,244.9L232.8,242.4L233.1,240.2L233.4,243.6L233.7,241.2L234.0,242.9L234.3,243.5L234.6,243.0L234.9,242.9L235.2,240.5L235.5,243.2L235.8,239.6L236.1,240.7L236.4,242.2L236.7,238.3L237.0,239.0L237.3,238.3L237.6,235.6L237.9,236.2L238.2,234.8L238.5,231.7L238.8,234.6L239.1,235.3L239.4,238.4L239.7,235.6L240.0,239.9L240.3,239.0L240.6,238.6L240.9,241.1L241.2,238.1L241.5,240.9L241.8,240.7L242.1,239.5L242.4,241.7L242.7,244.3L243.0,243.3L243.3,240.3L243.6,244.2L243.9,245.0L244.2,242.7L244.5,239.1L244.8,243.7L245.1,242.6L245.4,243.5L245.7,246.5L246.0,240.1L246.3,241.5L246.6,241.7L246.9,238.7L247.2,241.8L247.5,240.3L247.8,244.9L248.1,244.2L248.4,244.9L248.7,243.3L249.0,242.2L249.3,243.7L249.6,245.5L249.9,244.0L250.2,241.9L250.5,242.3L250.8,239.1L251.1,242.1L251.4,238.6L251.7,242.2L252.0,242.4L252.3,243.8L252.6,245.9L252.9,242.7L253.2,240.8L253.5,241.6L253.8,240.3L254.1,238.0L254.4,238.3L254.7,241.0L255.0,239.7L255.3,243.2L255.6,243.5L255.9,240.1L256.2,242.3L256.5,242.0L256.8,241.8L257.1,240.3L257.4,245.5L257.7,245.5L258.0,244.1L258.3,241.8L258.6,244.0L258.9,245.2L259.2,239.7L259.5,241.2L259.8,242.0L260.1,240.9L260.4,243.5L260.7,244.1L261.0,243.0L261.3,241.3L261.6,240.6L261.9,240.5L262.2,243.9L262.5,245.5L262.8,242.1L263.1,242.6L263.4,241.0L263.7,240.4L264.0,240.6L264.3,242.7L264.6,242.8L264.9,245.3L265.2,243.8L265.5,242.6L265.8,240.3L266.1,246.7L266.4,243.7L266.7,240.9L267.0,242.9L267.3,243.0L267.6,243.0L267.9,242.1L268.2,243.9L268.5,243.0L268.8,241.2L269.1,242.6L269.4,243.9L269.7,242.3L270.0,244.0L270.3,242.3L270.6,242.2L270.9,239.8L271.2,242.1L271.5,241.9L271.8,242.1L272.1,242.6L272.4,236.1L272.7,240.8L273.0,245.0L273.3,238.9L273.6,244.0L273.9,242.7L274.2,239.3L274.5,239.2L274.8,243.6L275.1,239.8L275.4,245.8L275.7,243.0L276.0,244.3L276.3,240.3L276.6,241.4L276.9,243.0L277.2,244.6L277.5,238.7L277.8,241.3L278.1,242.0L278.4,241.3L278.7,245.8L279.0,237.7L279.3,241.4L279.6,236.6L279.9,241.4L280.2,238.2L280.5,242.5L280.8,243.3L281.1,245.7L281.4,242.2L281.7,241.6L282.0,240.6L282.3,239.1L282.6,241.4L282.9,243.3L283.2,243.0L283.5,243.4L283.8,240.6L284.1,239.8L284.4,243.0L284.7,238.3L285.0,239.2L285.3,241.7L285.6,243.0L285.9,243.7L286.2,243.2L286.5,242.5L286.8,240.8L287.1,241.8L287.4,240.7L287.7,238.8L288.0,239.9L288.3,243.2L288.6,242.5L288.9,241.3L289.2,241.9L289.5,244.4L289.8,242.9L290.1,238.5L290.4,241.7L290.7,242.1L291.0,240.7L291.3,241.0L291.6,244.0L291.9,239.7L292.2,243.1L292.5,241.3L292.8,243.1L293.1,240.5L293.4,241.3L293.7,241.8L294.0,241.0L294.3,238.7L294.6,241.1L294.9,239.8L295.2,240.1L295.5,241.8L295.8,237.7L296.1,240.8L296.4,238.3L296.7,240.9L297.0,242.1L297.3,242.0L297.6,242.3L297.9,242.6L298.2,243.9L298.5,239.5L298.8,239.3L299.1,241.0L299.4,237.9L299.7,242.3L300.0,242.5L300.3,241.3L300.6,242.6L300.9,243.4L301.2,242.5L301.5,237.8L301.8,242.4L302.1,241.4L302.4,239.0L302.7,241.9L303.0,238.8L303.3,239.8L303.6,241.3L303.9,240.8L304.2,242.9L304.5,242.7L304.8,238.8L305.1,238.7L305.4,243.4L305.7,245.7L306.0,243.8L306.3,241.9L306.6,238.5L306.9,239.6L307.2,239.4L307.5,243.8L307.8,239.9L308.1,239.9L308.4,241.2L308.7,240.0L309.0,235.4L309.3,244.6L309.6,242.8L309.9,241.6L310.2,242.2L310.5,241.6L310.8,239.1L311.1,239.3L311.4,239.2L311.7,238.8L312.0,239.6L312.3,236.7L312.6,238.1L312.9,242.2L313.2,241.7L313.5,240.7L313.8,243.1L314.1,242.0L314.4,240.4L314.7,242.8L315.0,240.8L315.3,239.4L315.6,240.2L315.9,240.2L316.2,239.5L316.5,238.8L316.8,239.0L317.1,241.3L317.4,241.1L317.7,241.5" fill="none" stroke="#000" stroke-width="1.9" stroke-linejoin="round"/>
<text class="t" x="299.3" y="62" font-family="Liberation Sans, sans-serif" font-weight="bold" font-size="17.2">f</text>
<text class="t" x="298.3" y="95.3" font-family="Liberation Sans, sans-serif" font-weight="bold" font-size="17.2">e</text>
<text class="t" x="297.4" y="134.5" font-family="Liberation Sans, sans-serif" font-weight="bold" font-size="17.2">d</text>
<text class="t" x="297.8" y="168.3" font-family="Liberation Sans, sans-serif" font-weight="bold" font-size="17.2">c</text>
<text class="t" x="297.4" y="202.2" font-family="Liberation Sans, sans-serif" font-weight="bold" font-size="17.2">b</text>
<text class="t" x="297.8" y="234.5" font-family="Liberation Sans, sans-serif" font-weight="bold" font-size="17.2">a</text>
<text class="t" transform="translate(105.3,54.6) rotate(-90)" font-family="Liberation Sans, sans-serif" font-weight="bold" font-size="13.9">(220)</text>
<text class="t" transform="translate(131.8,54.2) rotate(-90)" font-family="Liberation Sans, sans-serif" font-weight="bold" font-size="13.9">(311)</text>
<text class="t" transform="translate(163.5,54.2) rotate(-90)" font-family="Liberation Sans, sans-serif" font-weight="bold" font-size="13.9">(400)</text>
<text class="t" transform="translate(227.5,54.2) rotate(-90)" font-family="Liberation Sans, sans-serif" font-weight="bold" font-size="13.9">(511)</text>
<text class="t" transform="translate(254.5,53) rotate(-90)" font-family="Liberation Sans, sans-serif" font-weight="bold" font-size="13.9">(440)</text>
<rect x="41.3" y="2.9" width="276.8" height="281.3" fill="none" stroke="#000" stroke-width="2.1" stroke-linejoin="round"/>
<line x1="87.7" y1="284.2" x2="87.7" y2="279.2" stroke="#000" stroke-width="1.8"/>
<line x1="133.8" y1="284.2" x2="133.8" y2="279.2" stroke="#000" stroke-width="1.8"/>
<line x1="179.9" y1="284.2" x2="179.9" y2="279.2" stroke="#000" stroke-width="1.8"/>
<line x1="226.0" y1="284.2" x2="226.0" y2="279.2" stroke="#000" stroke-width="1.8"/>
<line x1="272.1" y1="284.2" x2="272.1" y2="279.2" stroke="#000" stroke-width="1.8"/>
<text class="t" x="41.6" y="303.8" text-anchor="middle" font-family="Liberation Sans, sans-serif" font-weight="bold" font-size="18.2">20</text>
<text class="t" x="87.7" y="303.8" text-anchor="middle" font-family="Liberation Sans, sans-serif" font-weight="bold" font-size="18.2">30</text>
<text class="t" x="133.8" y="303.8" text-anchor="middle" font-family="Liberation Sans, sans-serif" font-weight="bold" font-size="18.2">40</text>
<text class="t" x="179.9" y="303.8" text-anchor="middle" font-family="Liberation Sans, sans-serif" font-weight="bold" font-size="18.2">50</text>
<text class="t" x="226.0" y="303.8" text-anchor="middle" font-family="Liberation Sans, sans-serif" font-weight="bold" font-size="18.2">60</text>
<text class="t" x="272.1" y="303.8" text-anchor="middle" font-family="Liberation Sans, sans-serif" font-weight="bold" font-size="18.2">70</text>
<text class="t" x="318.2" y="303.8" text-anchor="middle" font-family="Liberation Sans, sans-serif" font-weight="bold" font-size="18.2">80</text>
<text class="t" x="188" y="328.5" text-anchor="middle" font-family="Liberation Sans, sans-serif" font-weight="bold" font-size="23">2<tspan font-family="Liberation Serif, serif" font-weight="normal">θ</tspan> (degree)</text>
<text class="t" transform="translate(21.1,157.9) rotate(-90)" text-anchor="middle" font-family="Liberation Sans, sans-serif" font-weight="bold" font-size="22.6">Intensity (a.u.)</text>
<text class="t" x="12.2" y="25" font-family="Liberation Serif, serif" font-weight="bold" font-size="22" textLength="21" lengthAdjust="spacingAndGlyphs">(i)</text>
<line x1="428.9" y1="25" x2="428.9" y2="288.6" stroke="#000" stroke-width="1.3" stroke-dasharray="2.5 2.5"/>
<line x1="551.1" y1="107" x2="551.1" y2="288.6" stroke="#000" stroke-width="1.3" stroke-dasharray="2.5 2.5"/>
<line x1="623.3" y1="44" x2="623.3" y2="288.6" stroke="#000" stroke-width="1.3" stroke-dasharray="2.5 2.5"/>
<path d="M393.0,22.2L394.9,22.3L397.7,22.4L400.9,22.5L404.2,22.6L407.4,22.7L410.0,22.8L412.1,22.9L413.9,23.0L415.5,23.0L417.0,23.1L418.5,23.2L420.0,23.3L421.5,23.4L423.0,23.6L424.4,23.8L425.8,24.0L427.3,24.1L428.9,24.2L430.6,24.2L432.3,24.1L434.1,24.0L435.9,23.9L437.9,23.7L440.0,23.6L442.4,23.5L445.0,23.3L447.7,23.1L450.4,23.0L452.9,22.9L455.0,22.8L456.8,22.8L458.4,22.9L459.8,23.0L461.1,23.1L462.1,23.2L463.0,23.4L463.6,23.7L464.0,24.0L464.2,24.4L464.2,24.7L464.3,24.9L464.5,25.0L464.8,24.8L465.0,24.5L465.2,24.0L465.5,23.5L465.8,23.2L466.0,23.0L466.2,23.1L466.5,23.4L466.8,23.8L467.0,24.1L467.2,24.4L467.5,24.5L467.6,24.4L467.6,24.0L467.7,23.6L467.8,23.2L468.2,22.8L469.0,22.5L470.2,22.3L471.6,22.2L473.3,22.2L475.3,22.1L477.5,22.1L480.0,22.0L482.8,21.9L486.0,21.7L489.4,21.6L493.0,21.4L496.6,21.3L500.0,21.2L503.3,21.1L506.7,21.1L510.0,21.0L513.3,21.0L516.7,21.0L520.0,21.0L523.5,21.0L527.1,21.0L530.8,21.0L534.2,21.0L537.4,21.0L540.0,21.0L542.1,21.0L543.8,21.0L545.1,21.0L546.2,21.1L547.2,21.2L548.0,21.3L548.7,21.5L549.1,21.9L549.4,22.3L549.6,22.6L549.7,22.9L550.0,23.0L550.1,22.9L550.1,22.6L550.0,22.3L550.1,21.9L550.7,21.5L552.0,21.3L554.1,21.2L556.7,21.1L559.9,21.0L563.3,21.0L566.7,21.0L570.0,21.0L573.3,21.0L576.7,21.0L580.1,20.9L583.6,21.0L586.9,21.0L590.0,21.0L593.0,21.0L596.0,21.0L598.9,21.1L601.6,21.1L604.0,21.3L606.0,21.5L607.5,21.8L608.6,22.1L609.4,22.5L610.1,23.0L610.7,23.7L611.5,24.5L612.4,25.6L613.3,26.9L614.2,28.3L615.2,29.9L616.1,31.4L617.0,33.0L617.9,34.7L618.9,36.7L619.8,38.7L620.8,40.6L621.7,42.1L622.7,43.0L623.7,43.2L624.8,42.7L625.9,41.9L627.0,41.0L628.0,40.2L628.8,40.0L629.5,40.3L630.0,40.8L630.4,41.5L630.8,42.3L631.1,43.2L631.5,44.0L631.9,44.8L632.3,45.8L632.7,46.8L633.0,47.7L633.3,48.4L633.5,49.0" fill="none" stroke="#000" stroke-width="1.7" stroke-linejoin="round"/>
<path d="M393.0,82.8L393.8,82.7L394.9,82.5L396.2,82.3L397.6,82.0L398.9,81.8L400.0,81.5L401.0,81.2L401.9,80.9L402.7,80.5L403.5,80.2L404.2,79.8L405.0,79.5L405.7,79.1L406.4,78.8L407.1,78.4L407.8,78.1L408.4,77.7L409.0,77.5L409.5,77.3L410.0,77.1L410.5,77.0L411.0,76.9L411.5,76.9L412.0,77.0L412.6,77.2L413.2,77.4L413.9,77.7L414.6,78.0L415.3,78.5L416.0,79.0L416.7,79.7L417.5,80.4L418.3,81.3L419.1,82.2L420.0,83.1L421.0,84.0L422.2,85.0L423.5,86.1L424.9,87.2L426.3,88.2L427.7,88.9L428.9,89.3L430.0,89.2L430.9,88.8L431.8,88.1L432.7,87.3L433.8,86.4L435.0,85.5L436.4,84.6L438.0,83.5L439.8,82.3L441.5,81.2L443.3,80.0L445.0,79.0L446.7,78.1L448.4,77.2L450.1,76.3L451.7,75.5L453.4,74.7L455.0,74.0L456.5,73.3L458.0,72.6L459.4,72.0L460.9,71.4L462.4,70.8L464.0,70.2L465.7,69.6L467.4,69.1L469.1,68.6L471.0,68.1L472.9,67.5L475.0,67.0L477.3,66.4L479.9,65.8L482.6,65.2L485.2,64.6L487.7,64.0L490.0,63.5L492.0,63.0L494.0,62.4L495.8,61.9L497.4,61.5L498.9,61.1L500.0,61.0L500.8,61.1L501.3,61.5L501.6,62.0L501.7,62.5L501.8,62.8L502.0,63.0L502.0,62.9L501.8,62.7L501.6,62.3L501.5,61.9L501.9,61.5L503.0,61.0L504.9,60.5L507.4,59.9L510.3,59.3L513.5,58.6L516.8,58.0L520.0,57.5L523.3,57.0L527.0,56.5L530.7,56.0L534.3,55.5L537.4,55.3L540.0,55.2L541.8,55.3L543.1,55.7L544.0,56.1L544.6,56.7L545.2,57.3L546.0,58.0L546.9,58.9L547.7,59.9L548.5,61.1L549.2,62.2L550.0,63.0L550.7,63.4L551.4,63.3L552.2,62.9L552.9,62.1L553.6,61.3L554.3,60.6L555.0,60.0L555.7,59.6L556.4,59.1L557.0,58.7L557.7,58.4L558.5,58.2L559.3,58.3L560.2,58.8L561.2,59.6L562.2,60.6L563.3,61.6L564.4,62.2L565.4,62.4L566.4,61.9L567.5,60.9L568.5,59.5L569.6,58.2L570.6,57.0L571.6,56.2L572.6,55.9L573.5,55.9L574.4,56.0L575.3,56.3L576.1,56.5L577.0,56.5L577.8,56.4L578.4,56.3L579.1,56.1L579.8,55.8L580.7,55.5L581.8,55.2L583.2,54.8L584.9,54.2L586.7,53.6L588.6,53.1L590.4,52.5L592.0,52.1L593.5,51.8L594.9,51.6L596.2,51.4L597.5,51.3L598.8,51.1L600.0,51.0L601.2,50.8L602.3,50.6L603.4,50.4L604.5,50.2L605.4,50.1L606.3,50.1L607.1,50.2L607.7,50.4L608.3,50.7L608.8,51.1L609.4,51.5L610.0,52.0L610.7,52.6L611.3,53.2L612.0,54.0L612.8,54.7L613.6,55.5L614.5,56.2L615.5,57.0L616.7,58.0L617.9,59.0L619.2,59.8L620.5,60.3L621.7,60.3L622.9,59.7L624.2,58.5L625.4,57.1L626.6,55.5L627.8,54.2L628.8,53.2L629.8,52.6L630.7,52.3L631.6,52.2L632.4,52.1L633.0,52.1L633.5,52.0" fill="none" stroke="#000" stroke-width="1.7" stroke-linejoin="round"/>
<path d="M393.0,103.8L394.9,103.8L397.7,103.9L400.9,103.9L404.2,104.0L407.4,104.1L410.0,104.3L412.1,104.5L413.9,104.7L415.5,105.0L417.0,105.3L418.5,105.6L420.0,106.0L421.5,106.5L423.0,107.1L424.4,107.8L425.8,108.4L427.3,108.9L428.9,109.2L430.6,109.3L432.3,109.2L434.1,109.1L435.9,108.8L437.9,108.6L440.0,108.3L442.3,108.0L444.7,107.7L447.2,107.4L449.7,107.0L452.4,106.7L455.0,106.3L457.5,105.9L460.0,105.5L462.5,105.1L465.1,104.8L468.1,104.4L471.6,104.2L475.5,104.1L479.8,104.0L484.3,104.0L489.2,104.0L494.5,104.0L500.0,104.0L506.4,104.0L513.7,104.1L521.3,104.1L528.6,104.2L535.1,104.2L540.0,104.3L543.3,104.4L545.3,104.4L546.4,104.4L547.0,104.5L547.4,104.6L548.0,104.8L548.7,105.1L549.1,105.5L549.4,105.9L549.6,106.3L549.8,106.6L550.1,106.8L550.5,106.8L550.8,106.6L551.2,106.3L551.6,106.0L552.2,105.7L553.0,105.5L553.9,105.4L554.9,105.4L556.0,105.4L557.4,105.4L559.1,105.4L561.3,105.3L564.0,105.2L567.3,105.0L570.9,104.7L574.7,104.5L578.4,104.4L581.8,104.3L585.1,104.3L588.5,104.5L591.8,104.6L595.0,104.8L597.8,104.9L600.2,105.0L602.1,104.9L603.5,104.6L604.7,104.3L605.6,104.1L606.5,104.0L607.4,104.3L608.3,104.9L609.0,105.6L609.6,106.5L610.2,107.7L610.8,108.9L611.5,110.4L612.3,112.0L613.1,113.9L613.9,115.9L614.8,118.1L615.7,120.3L616.6,122.7L617.6,125.4L618.6,128.7L619.7,132.0L620.7,135.1L621.7,137.6L622.7,139.1L623.6,139.4L624.5,138.5L625.4,137.1L626.2,135.6L627.0,134.4L627.8,134.0L628.6,134.5L629.3,135.6L630.1,137.0L630.8,138.5L631.4,140.0L631.9,141.1L632.3,142.0L632.7,142.8L633.0,143.5L633.2,144.1L633.4,144.6L633.5,145.0" fill="none" stroke="#000" stroke-width="1.7" stroke-linejoin="round"/>
<path d="M393.0,145.4L394.0,145.6L395.3,145.8L397.0,146.1L398.6,146.4L400.2,146.5L401.4,146.5L402.3,146.2L403.0,145.6L403.6,144.8L404.2,144.2L404.7,143.9L405.2,144.0L405.7,144.9L406.2,146.3L406.7,148.1L407.2,149.8L407.6,151.1L408.0,151.7L408.4,151.3L408.7,150.2L409.1,148.6L409.4,147.1L409.7,145.7L410.0,145.0L410.3,145.0L410.6,145.5L410.9,146.2L411.2,147.0L411.5,147.7L411.8,147.9L412.1,147.6L412.4,147.1L412.6,146.3L412.9,145.5L413.3,144.9L413.7,144.6L414.2,144.6L414.9,144.9L415.5,145.3L416.2,145.8L416.9,146.4L417.5,146.9L418.0,147.4L418.5,148.0L419.0,148.6L419.4,149.2L419.9,149.9L420.4,150.7L420.9,151.6L421.5,152.5L422.1,153.5L422.7,154.5L423.3,155.5L424.0,156.5L424.7,157.5L425.5,158.7L426.3,159.8L427.1,160.8L428.0,161.6L428.9,162.1L429.8,162.2L430.8,162.1L431.8,161.7L432.9,161.3L434.1,160.7L435.5,160.2L437.2,159.7L439.0,159.0L441.1,158.4L443.1,157.7L445.1,157.0L447.0,156.4L448.7,155.8L450.4,155.3L452.0,154.7L453.6,154.2L455.0,153.9L456.4,153.6L457.7,153.5L458.8,153.5L459.9,153.7L460.9,153.9L461.8,154.1L462.5,154.3L463.0,154.6L463.3,154.9L463.5,155.3L463.7,155.6L463.8,155.9L464.0,156.0L464.2,155.9L464.4,155.6L464.6,155.3L464.8,154.9L465.1,154.5L465.5,154.3L465.9,154.2L466.3,154.1L466.7,154.1L467.4,154.1L468.3,154.1L469.7,154.1L471.6,154.1L473.8,154.2L476.4,154.2L479.1,154.3L482.0,154.4L484.9,154.5L487.9,154.6L491.1,154.8L494.3,154.9L497.6,155.1L500.9,155.3L503.9,155.5L506.7,155.8L509.3,156.1L511.8,156.4L514.4,156.7L517.1,157.1L520.0,157.4L523.3,157.7L527.0,157.9L530.9,158.2L534.6,158.5L538.0,158.9L540.9,159.5L543.1,160.3L544.9,161.4L546.4,162.6L547.7,163.8L548.9,164.9L550.1,165.7L551.3,166.3L552.4,166.8L553.5,167.2L554.4,167.5L555.3,167.6L556.2,167.7L557.0,167.6L557.8,167.2L558.5,166.7L559.2,166.2L559.8,165.8L560.3,165.7L560.7,165.9L560.8,166.4L561.0,167.0L561.2,167.6L561.6,167.8L562.4,167.7L563.7,167.0L565.3,165.8L567.2,164.4L569.1,162.9L571.0,161.6L572.6,160.6L573.9,159.9L575.1,159.4L576.2,159.0L577.3,158.7L578.5,158.5L579.8,158.5L581.3,158.7L583.1,159.1L584.8,159.6L586.6,160.1L588.4,160.5L590.0,160.6L591.5,160.4L592.9,159.9L594.2,159.3L595.5,158.7L596.9,158.0L598.2,157.5L599.6,157.0L601.0,156.4L602.4,155.8L603.8,155.3L605.1,155.0L606.3,155.0L607.3,155.2L608.2,155.5L609.0,156.1L609.8,156.9L610.6,158.0L611.5,159.5L612.5,161.7L613.5,164.4L614.6,167.5L615.7,170.7L616.7,173.6L617.6,175.9L618.4,177.9L619.2,179.7L619.8,181.3L620.5,182.5L621.1,183.1L621.7,183.0L622.3,182.0L622.8,180.0L623.3,177.5L623.7,174.8L624.2,172.1L624.7,169.8L625.2,167.6L625.6,165.4L626.1,163.1L626.6,161.1L627.1,159.5L627.8,158.5L628.7,158.2L629.7,158.6L630.8,159.3L631.9,160.3L632.8,161.1L633.5,161.6" fill="none" stroke="#000" stroke-width="1.7" stroke-linejoin="round"/>
<path d="M393.0,197.6L394.9,197.6L397.7,197.6L400.9,197.6L404.2,197.7L407.4,197.7L410.0,197.8L412.1,197.9L413.9,198.0L415.5,198.2L417.0,198.4L418.5,198.6L420.0,198.8L421.5,199.1L423.0,199.4L424.4,199.8L425.8,200.1L427.3,200.4L428.9,200.5L430.6,200.5L432.3,200.4L434.1,200.2L435.9,200.0L437.9,199.7L440.0,199.5L442.3,199.2L444.9,199.0L447.5,198.6L450.2,198.3L452.7,198.0L455.0,197.8L456.8,197.6L458.1,197.4L459.3,197.3L460.7,197.1L462.8,197.0L465.9,197.0L470.2,197.0L475.3,197.1L481.1,197.2L487.3,197.4L493.7,197.5L500.0,197.6L506.7,197.7L514.1,197.7L521.6,197.8L528.8,197.8L535.1,197.9L540.0,198.0L543.3,198.1L545.3,198.1L546.4,198.2L547.0,198.3L547.4,198.5L548.0,198.8L548.7,199.3L549.1,199.9L549.4,200.6L549.6,201.3L549.8,201.8L550.1,202.1L550.5,202.0L551.0,201.7L551.5,201.3L552.0,200.8L552.5,200.3L553.0,200.0L553.5,199.8L554.0,199.8L554.4,199.7L554.9,199.7L555.4,199.7L556.0,199.6L556.6,199.4L557.3,199.2L558.1,199.0L558.8,198.8L559.5,198.7L560.1,198.6L560.6,198.6L561.1,198.8L561.6,198.9L562.1,199.1L562.5,199.3L563.0,199.5L563.5,199.7L564.0,200.0L564.5,200.2L565.1,200.5L565.6,200.6L566.2,200.6L566.8,200.4L567.3,200.1L567.8,199.7L568.4,199.3L569.3,198.9L570.3,198.5L571.6,198.2L573.2,197.9L575.0,197.6L576.9,197.3L578.7,197.1L580.5,197.0L582.2,197.0L583.9,197.1L585.6,197.2L587.4,197.4L589.1,197.7L590.8,197.9L592.6,198.2L594.4,198.6L596.2,199.0L597.9,199.4L599.5,199.7L601.0,199.8L602.3,199.7L603.4,199.5L604.5,199.1L605.4,198.8L606.3,198.5L607.1,198.4L607.8,198.4L608.3,198.5L608.8,198.6L609.2,198.9L609.7,199.4L610.2,200.0L610.8,200.9L611.5,202.1L612.1,203.4L612.8,204.9L613.5,206.3L614.2,207.6L614.9,208.8L615.5,209.9L616.2,211.0L616.9,212.2L617.6,213.4L618.3,214.8L619.0,216.5L619.8,218.4L620.6,220.5L621.3,222.4L622.0,224.0L622.7,225.0L623.3,225.4L623.8,225.2L624.3,224.7L624.8,224.0L625.3,223.4L625.8,222.9L626.3,222.5L626.8,221.9L627.3,221.4L627.8,221.0L628.3,220.8L628.8,220.9L629.3,221.4L629.9,222.2L630.4,223.3L631.0,224.5L631.5,225.7L631.9,227.0L632.3,228.4L632.6,230.1L632.9,231.9L633.1,233.6L633.3,235.0L633.5,236.0" fill="none" stroke="#000" stroke-width="1.7" stroke-linejoin="round"/>
<path d="M393.0,240.7L394.9,240.7L397.7,240.7L400.9,240.7L404.2,240.8L407.4,240.9L410.0,241.0L412.1,241.2L413.9,241.4L415.5,241.7L417.0,241.9L418.5,242.3L420.0,242.6L421.5,243.0L423.0,243.6L424.4,244.1L425.8,244.6L427.3,245.1L428.9,245.3L430.6,245.4L432.3,245.3L434.1,245.1L435.9,244.9L437.9,244.6L440.0,244.3L442.3,244.0L444.7,243.6L447.3,243.2L449.9,242.8L452.5,242.4L455.0,242.0L457.3,241.7L459.3,241.3L461.4,241.0L463.7,240.7L466.4,240.5L469.7,240.3L473.7,240.2L478.3,240.2L483.3,240.2L488.6,240.2L494.2,240.3L500.0,240.3L506.5,240.3L513.8,240.3L521.4,240.4L528.7,240.4L535.1,240.4L540.0,240.5L543.3,240.5L545.3,240.6L546.4,240.6L547.0,240.7L547.4,240.8L548.0,241.0L548.7,241.4L549.0,242.0L549.2,242.6L549.4,243.2L549.6,243.6L550.1,243.8L550.5,243.7L550.8,243.3L551.1,242.7L551.8,242.1L553.1,241.6L555.2,241.3L558.4,241.2L562.6,241.1L567.3,241.1L572.3,241.2L577.2,241.3L581.8,241.3L586.2,241.3L590.9,241.2L595.5,241.1L599.7,241.1L603.4,241.1L606.3,241.3L608.1,241.5L609.1,241.6L609.5,241.9L609.6,242.3L609.8,243.1L610.4,244.4L611.3,246.3L612.3,248.7L613.4,251.4L614.5,254.3L615.5,257.2L616.6,259.8L617.6,262.5L618.7,265.4L619.8,268.3L620.8,270.9L621.8,272.9L622.7,274.1L623.5,274.1L624.3,273.1L624.9,271.5L625.6,269.8L626.2,268.5L626.8,267.9L627.4,268.2L627.9,269.0L628.4,270.1L628.9,271.4L629.4,272.8L629.9,274.1L630.5,275.4L631.0,276.9L631.6,278.4L632.2,279.9L632.7,281.1L633.0,282.0" fill="none" stroke="#000" stroke-width="1.7" stroke-linejoin="round"/>
<line x1="463" y1="24" x2="463" y2="34" stroke="#000" stroke-width="1.4"/>
<path d="M461.1,30.2 L464.9,30.2 L463,37 Z" fill="#000"/>
<line x1="467.4" y1="24" x2="467.4" y2="34" stroke="#000" stroke-width="1.4"/>
<path d="M465.5,30.2 L469.29999999999995,30.2 L467.4,37 Z" fill="#000"/>
<line x1="550.1" y1="23.5" x2="550.1" y2="33.8" stroke="#000" stroke-width="1.4"/>
<path d="M548.2,29.999999999999996 L552.0,29.999999999999996 L550.1,36.8 Z" fill="#000"/>
<line x1="464.6" y1="70.5" x2="464.6" y2="76.7" stroke="#000" stroke-width="1.4"/>
<path d="M462.70000000000005,72.9 L466.5,72.9 L464.6,79.7 Z" fill="#000"/>
<line x1="592.4" y1="54" x2="592.4" y2="65.5" stroke="#000" stroke-width="1.4"/>
<path d="M590.5,61.7 L594.3,61.7 L592.4,68.5 Z" fill="#000"/>
<line x1="563" y1="105.5" x2="563" y2="116.7" stroke="#000" stroke-width="1.4"/>
<path d="M561.1,112.9 L564.9,112.9 L563,119.7 Z" fill="#000"/>
<line x1="464" y1="155.5" x2="464" y2="168.6" stroke="#000" stroke-width="1.4"/>
<path d="M462.1,164.79999999999998 L465.9,164.79999999999998 L464,171.6 Z" fill="#000"/>
<line x1="562.8" y1="168.7" x2="562.8" y2="179" stroke="#000" stroke-width="1.4"/>
<path d="M560.9,175.2 L564.6999999999999,175.2 L562.8,182 Z" fill="#000"/>
<line x1="592.4" y1="162.6" x2="592.4" y2="176" stroke="#888" stroke-width="0.8"/>
<path d="M591.1999999999999,174 L593.6,174 L592.4,179 Z" fill="#888"/>
<line x1="566" y1="200.4" x2="566" y2="212.8" stroke="#000" stroke-width="1.4"/>
<path d="M564.1,209.0 L567.9,209.0 L566,215.8 Z" fill="#000"/>
<text class="t" x="456.2" y="45.8" font-family="Liberation Sans, sans-serif" font-weight="bold" font-size="12">C-H</text>
<text class="t" x="538.4" y="46.3" font-family="Liberation Sans, sans-serif" font-weight="bold" font-size="12">N-H</text>
<text class="t" x="456.2" y="90" font-family="Liberation Sans, sans-serif" font-weight="bold" font-size="12">C-H</text>
<text class="t" x="562.4" y="84.2" font-family="Liberation Sans, sans-serif" font-weight="bold" font-size="12">N-(CH<tspan dy="5.1">2</tspan><tspan dy="-5.1">-)</tspan><tspan dy="5.1">3</tspan></text>
<text class="t" x="556.2" y="133" font-family="Liberation Sans, sans-serif" font-weight="bold" font-size="12">CH<tspan dy="5">2</tspan></text>
<text class="t" x="453.6" y="182" font-family="Liberation Sans, sans-serif" font-weight="bold" font-size="12">CH<tspan dy="5">2</tspan></text>
<text class="t" x="555.3" y="194.6" font-family="Liberation Sans, sans-serif" font-weight="bold" font-size="12">C-H</text>
<text class="t" x="583.6" y="192.2" font-family="Liberation Sans, sans-serif" font-weight="bold" font-size="12">C-O-C</text>
<text class="t" x="559.5" y="227" font-family="Liberation Sans, sans-serif" font-weight="bold" font-size="12">COO<tspan dy="-5">-</tspan></text>
<text class="t" transform="translate(426,280.6) rotate(-90)" font-family="Liberation Sans, sans-serif" font-weight="bold" font-size="12">O-H</text>
<text class="t" transform="translate(546,282.2) rotate(-90)" font-family="Liberation Sans, sans-serif" font-weight="bold" font-size="12">C=O</text>
<text class="t" transform="translate(617.6,286.3) rotate(-90)" font-family="Liberation Sans, sans-serif" font-weight="bold" font-size="12">Fe-O</text>
<text class="t" x="398.9" y="17.5" font-family="Liberation Sans, sans-serif" font-weight="bold" font-size="14.5">f</text>
<text class="t" x="397.7" y="77.3" font-family="Liberation Sans, sans-serif" font-weight="bold" font-size="14.5">e</text>
<text class="t" x="397.1" y="97.3" font-family="Liberation Sans, sans-serif" font-weight="bold" font-size="14.5">d</text>
<text class="t" x="397.6" y="140.3" font-family="Liberation Sans, sans-serif" font-weight="bold" font-size="14.5">c</text>
<text class="t" x="397.3" y="194.4" font-family="Liberation Sans, sans-serif" font-weight="bold" font-size="14.5">b</text>
<text class="t" x="397.4" y="236" font-family="Liberation Sans, sans-serif" font-weight="bold" font-size="14.5">a</text>
<rect x="392.1" y="3.6" width="241.69999999999993" height="285.0" fill="none" stroke="#000" stroke-width="1.9" stroke-linejoin="round"/>
<line x1="458.9" y1="288.6" x2="458.9" y2="283.6" stroke="#000" stroke-width="1.5"/>
<line x1="525.9" y1="288.6" x2="525.9" y2="283.6" stroke="#000" stroke-width="1.5"/>
<line x1="592.9" y1="288.6" x2="592.9" y2="283.6" stroke="#000" stroke-width="1.5"/>
<text class="t" x="391.9" y="305" text-anchor="middle" font-family="Liberation Sans, sans-serif" font-weight="bold" font-size="14.6">4000</text>
<text class="t" x="458.9" y="305" text-anchor="middle" font-family="Liberation Sans, sans-serif" font-weight="bold" font-size="14.6">3000</text>
<text class="t" x="525.9" y="305" text-anchor="middle" font-family="Liberation Sans, sans-serif" font-weight="bold" font-size="14.6">2000</text>
<text class="t" x="592.9" y="305" text-anchor="middle" font-family="Liberation Sans, sans-serif" font-weight="bold" font-size="14.6">1000</text>
<text class="t" x="416.2" y="327" font-family="Liberation Sans, sans-serif" font-weight="bold" font-size="19.8">Wavenumber (cm <tspan dy="-5.8">-1</tspan><tspan dy="5.8">)</tspan></text>
<text class="t" transform="translate(380.1,147.5) rotate(-90)" text-anchor="middle" font-family="Liberation Sans, sans-serif" font-weight="bold" font-size="20">Transmittance (%)</text>
<text class="t" x="363.4" y="21.3" font-family="Liberation Serif, serif" font-weight="bold" font-size="19.6" textLength="24.2" lengthAdjust="spacingAndGlyphs">(ii)</text>
<line x1="110.5" y1="357.7" x2="110.5" y2="567.5" stroke="#111" stroke-width="1.5" stroke-dasharray="2.1 2.5"/>
<line x1="175.5" y1="357.7" x2="175.5" y2="567.5" stroke="#111" stroke-width="1.5" stroke-dasharray="2.1 2.5"/>
<line x1="253.6" y1="357.7" x2="253.6" y2="567.5" stroke="#111" stroke-width="1.5" stroke-dasharray="2.1 2.5"/>
<path d="M68.1,378.9L69.1,379.7L70.0,380.5L71.0,381.2L72.0,382.0L72.9,382.7L73.9,383.3L74.8,384.0L75.8,384.6L76.7,385.2L77.7,385.7L78.6,386.3L79.6,386.8L80.6,387.3L81.5,387.8L82.5,388.2L83.4,388.7L84.4,389.1L85.3,389.5L86.3,389.9L87.3,390.2L88.2,390.6L89.2,390.9L90.1,391.2L91.1,391.5L92.0,391.8L93.0,392.1L94.0,392.4L94.9,392.7L95.9,392.9L96.8,393.1L97.8,393.4L98.7,393.6L99.7,393.8L100.7,394.1L101.6,394.3L102.6,394.5L103.5,394.7L104.5,394.9L105.4,395.1L106.4,395.3L107.4,395.5L108.3,395.7L109.3,395.9L110.2,396.1L111.2,396.3L112.1,396.5L113.1,396.7L114.1,396.9L115.0,397.2L116.0,397.4L116.9,397.6L117.9,397.9L118.8,398.1L119.8,398.4L120.8,398.7L121.7,399.0L122.7,399.3L123.6,399.6L124.6,399.9L125.5,400.3L126.5,400.6L127.5,401.0L128.4,401.4L129.4,401.8L130.3,402.2L131.3,402.7L132.2,403.1L133.2,403.6L134.2,404.1L135.1,404.7L136.1,405.2L137.0,405.8L138.0,406.4L138.9,407.0L139.9,407.7L140.9,408.3L141.8,409.0L142.8,409.7L143.7,410.4L144.7,411.2L145.6,411.9L146.6,412.7L147.6,413.5L148.5,414.3L149.5,415.2L150.4,416.0L151.4,416.9L152.3,417.7L153.3,418.6L154.3,419.5L155.2,420.4L156.2,421.3L157.1,422.2L158.1,423.1L159.0,424.0L160.0,424.9L160.9,425.8L161.9,426.7L162.9,427.5L163.8,428.4L164.8,429.2L165.7,430.0L166.7,430.7L167.6,431.4L168.6,432.2L169.6,432.8L170.5,433.5L171.5,434.1L172.4,434.7L173.4,435.3L174.3,435.9L175.3,436.5L176.3,437.0L177.2,437.5L178.2,438.1L179.1,438.6L180.1,439.0L181.0,439.5L182.0,440.0L183.0,440.4L183.9,440.8L184.9,441.2L185.8,441.7L186.8,442.0L187.7,442.4L188.7,442.8L189.7,443.2L190.6,443.5L191.6,443.9L192.5,444.2L193.5,444.5L194.4,444.8L195.4,445.1L196.4,445.4L197.3,445.7L198.3,446.0L199.2,446.2L200.2,446.5L201.1,446.7L202.1,447.0L203.1,447.2L204.0,447.4L205.0,447.6L205.9,447.9L206.9,448.1L207.8,448.3L208.8,448.5L209.8,448.6L210.7,448.8L211.7,449.0L212.6,449.2L213.6,449.3L214.5,449.5L215.5,449.7L216.5,449.8L217.4,450.0L218.4,450.1L219.3,450.2L220.3,450.4L221.2,450.5L222.2,450.6L223.2,450.8L224.1,450.9L225.1,451.0L226.0,451.1L227.0,451.3L227.9,451.4L228.9,451.5L229.9,451.6L230.8,451.7L231.8,451.9L232.7,452.0L233.7,452.1L234.6,452.2L235.6,452.3L236.6,452.4L237.5,452.6L238.5,452.7L239.4,452.8L240.4,452.9L241.3,453.0L242.3,453.2L243.2,453.3L244.2,453.4L245.2,453.6L246.1,453.7L247.1,453.8L248.0,454.0L249.0,454.1L249.9,454.3L250.9,454.4L251.9,454.6L252.8,454.7L253.8,454.9L254.7,455.0L255.7,455.2L256.6,455.4L257.6,455.5L258.6,455.7L259.5,455.8L260.5,456.0L261.4,456.2L262.4,456.3L263.3,456.5L264.3,456.7L265.3,456.8L266.2,457.0L267.2,457.2L268.1,457.3L269.1,457.5L270.0,457.6L271.0,457.8L272.0,458.0L272.9,458.1L273.9,458.3L274.8,458.4L275.8,458.6L276.7,458.7L277.7,458.9L278.7,459.0L279.6,459.2L280.6,459.3L281.5,459.5L282.5,459.6L283.4,459.7L284.4,459.8L285.4,460.0L286.3,460.1L287.3,460.2L288.2,460.3L289.2,460.4L290.1,460.5L291.1,460.6L292.1,460.7L293.0,460.8L294.0,460.9L294.9,461.0L295.9,461.0L296.8,461.1L297.8,461.2L298.8,461.2L299.7,461.3L300.7,461.3L301.6,461.4L302.6,461.4L303.5,461.4L304.5,461.4L305.5,461.4L306.4,461.4L307.4,461.4L308.3,461.4L309.3,461.4L310.2,461.4L311.2,461.3L312.2,461.3L313.1,461.2L314.1,461.2L315.0,461.1L316.0,461.0" fill="none" stroke="#000000" stroke-width="1.7" stroke-linejoin="round"/>
<path d="M68.1,378.9L69.1,379.2L70.0,379.6L71.0,379.9L72.0,380.3L72.9,380.6L73.9,381.0L74.8,381.3L75.8,381.7L76.7,382.0L77.7,382.4L78.6,382.8L79.6,383.2L80.6,383.6L81.5,384.0L82.5,384.4L83.4,384.8L84.4,385.2L85.3,385.6L86.3,386.0L87.3,386.4L88.2,386.9L89.2,387.3L90.1,387.7L91.1,388.2L92.0,388.6L93.0,389.1L94.0,389.5L94.9,390.0L95.9,390.5L96.8,391.0L97.8,391.4L98.7,391.9L99.7,392.4L100.7,392.9L101.6,393.4L102.6,393.9L103.5,394.4L104.5,395.0L105.4,395.5L106.4,396.0L107.4,396.5L108.3,397.1L109.3,397.6L110.2,398.2L111.2,398.8L112.1,399.3L113.1,399.9L114.1,400.5L115.0,401.1L116.0,401.6L116.9,402.2L117.9,402.8L118.8,403.4L119.8,404.1L120.8,404.7L121.7,405.3L122.7,405.9L123.6,406.6L124.6,407.2L125.5,407.9L126.5,408.5L127.5,409.2L128.4,409.8L129.4,410.5L130.3,411.2L131.3,411.9L132.2,412.6L133.2,413.3L134.2,414.0L135.1,414.7L136.1,415.4L137.0,416.1L138.0,416.9L138.9,417.6L139.9,418.4L140.9,419.1L141.8,419.9L142.8,420.6L143.7,421.4L144.7,422.2L145.6,423.0L146.6,423.7L147.6,424.5L148.5,425.3L149.5,426.2L150.4,427.0L151.4,427.8L152.3,428.6L153.3,429.4L154.3,430.3L155.2,431.1L156.2,431.9L157.1,432.8L158.1,433.6L159.0,434.4L160.0,435.2L160.9,436.1L161.9,436.9L162.9,437.7L163.8,438.5L164.8,439.3L165.7,440.1L166.7,440.9L167.6,441.7L168.6,442.5L169.6,443.3L170.5,444.0L171.5,444.8L172.4,445.5L173.4,446.3L174.3,447.0L175.3,447.7L176.3,448.4L177.2,449.1L178.2,449.8L179.1,450.4L180.1,451.1L181.0,451.7L182.0,452.3L183.0,452.9L183.9,453.4L184.9,454.0L185.8,454.5L186.8,455.0L187.7,455.5L188.7,456.0L189.7,456.4L190.6,456.9L191.6,457.3L192.5,457.7L193.5,458.1L194.4,458.5L195.4,458.8L196.4,459.2L197.3,459.5L198.3,459.8L199.2,460.1L200.2,460.4L201.1,460.7L202.1,460.9L203.1,461.2L204.0,461.4L205.0,461.7L205.9,461.9L206.9,462.1L207.8,462.3L208.8,462.5L209.8,462.7L210.7,462.9L211.7,463.1L212.6,463.3L213.6,463.5L214.5,463.6L215.5,463.8L216.5,464.0L217.4,464.1L218.4,464.3L219.3,464.5L220.3,464.6L221.2,464.8L222.2,464.9L223.2,465.1L224.1,465.2L225.1,465.4L226.0,465.6L227.0,465.7L227.9,465.9L228.9,466.0L229.9,466.2L230.8,466.3L231.8,466.5L232.7,466.6L233.7,466.8L234.6,466.9L235.6,467.1L236.6,467.3L237.5,467.4L238.5,467.6L239.4,467.8L240.4,467.9L241.3,468.1L242.3,468.3L243.2,468.4L244.2,468.6L245.2,468.8L246.1,468.9L247.1,469.1L248.0,469.3L249.0,469.5L249.9,469.7L250.9,469.9L251.9,470.1L252.8,470.3L253.8,470.4L254.7,470.6L255.7,470.8L256.6,471.0L257.6,471.2L258.6,471.4L259.5,471.6L260.5,471.8L261.4,472.0L262.4,472.2L263.3,472.4L264.3,472.6L265.3,472.8L266.2,473.0L267.2,473.2L268.1,473.4L269.1,473.6L270.0,473.8L271.0,474.0L272.0,474.2L272.9,474.4L273.9,474.6L274.8,474.7L275.8,474.9L276.7,475.1L277.7,475.3L278.7,475.5L279.6,475.6L280.6,475.8L281.5,476.0L282.5,476.1L283.4,476.3L284.4,476.5L285.4,476.6L286.3,476.8L287.3,476.9L288.2,477.1L289.2,477.2L290.1,477.3L291.1,477.5L292.1,477.6L293.0,477.7L294.0,477.8L294.9,477.9L295.9,478.0L296.8,478.1L297.8,478.2L298.8,478.3L299.7,478.4L300.7,478.5L301.6,478.5L302.6,478.6L303.5,478.6L304.5,478.7L305.5,478.7L306.4,478.8L307.4,478.8L308.3,478.8L309.3,478.8L310.2,478.8L311.2,478.8L312.2,478.8L313.1,478.8L314.1,478.8L315.0,478.7L316.0,478.7" fill="none" stroke="#ff0000" stroke-width="1.7" stroke-linejoin="round"/>
<path d="M68.1,378.9L69.1,380.2L70.0,381.5L71.0,382.6L72.0,383.7L72.9,384.7L73.9,385.6L74.8,386.5L75.8,387.3L76.7,388.0L77.7,388.7L78.6,389.3L79.6,389.8L80.6,390.4L81.5,390.9L82.5,391.3L83.4,391.7L84.4,392.1L85.3,392.4L86.3,392.8L87.3,393.1L88.2,393.4L89.2,393.6L90.1,393.9L91.1,394.1L92.0,394.4L93.0,394.6L94.0,394.8L94.9,395.0L95.9,395.2L96.8,395.4L97.8,395.7L98.7,395.9L99.7,396.1L100.7,396.3L101.6,396.6L102.6,396.9L103.5,397.1L104.5,397.4L105.4,397.7L106.4,398.0L107.4,398.3L108.3,398.6L109.3,399.0L110.2,399.3L111.2,399.7L112.1,400.0L113.1,400.4L114.1,400.7L115.0,401.1L116.0,401.5L116.9,401.9L117.9,402.2L118.8,402.6L119.8,403.0L120.8,403.4L121.7,403.9L122.7,404.3L123.6,404.7L124.6,405.1L125.5,405.5L126.5,406.0L127.5,406.4L128.4,406.8L129.4,407.2L130.3,407.7L131.3,408.1L132.2,408.5L133.2,409.0L134.2,409.4L135.1,409.9L136.1,410.3L137.0,410.7L138.0,411.2L138.9,411.6L139.9,412.0L140.9,412.5L141.8,412.9L142.8,413.3L143.7,413.7L144.7,414.2L145.6,414.6L146.6,415.0L147.6,415.4L148.5,415.8L149.5,416.2L150.4,416.6L151.4,417.0L152.3,417.4L153.3,417.8L154.3,418.2L155.2,418.5L156.2,418.9L157.1,419.3L158.1,419.6L159.0,419.9L160.0,420.3L160.9,420.6L161.9,420.9L162.9,421.3L163.8,421.6L164.8,421.9L165.7,422.1L166.7,422.4L167.6,422.7L168.6,423.0L169.6,423.2L170.5,423.5L171.5,423.7L172.4,423.9L173.4,424.1L174.3,424.4L175.3,424.6L176.3,424.8L177.2,425.0L178.2,425.2L179.1,425.4L180.1,425.6L181.0,425.7L182.0,425.9L183.0,426.1L183.9,426.3L184.9,426.4L185.8,426.6L186.8,426.8L187.7,426.9L188.7,427.1L189.7,427.2L190.6,427.4L191.6,427.5L192.5,427.7L193.5,427.8L194.4,428.0L195.4,428.1L196.4,428.3L197.3,428.4L198.3,428.6L199.2,428.7L200.2,428.9L201.1,429.1L202.1,429.2L203.1,429.4L204.0,429.5L205.0,429.7L205.9,429.8L206.9,430.0L207.8,430.2L208.8,430.3L209.8,430.5L210.7,430.6L211.7,430.8L212.6,431.0L213.6,431.1L214.5,431.3L215.5,431.5L216.5,431.6L217.4,431.8L218.4,432.0L219.3,432.1L220.3,432.3L221.2,432.5L222.2,432.6L223.2,432.8L224.1,433.0L225.1,433.2L226.0,433.3L227.0,433.5L227.9,433.7L228.9,433.9L229.9,434.0L230.8,434.2L231.8,434.4L232.7,434.6L233.7,434.7L234.6,434.9L235.6,435.1L236.6,435.3L237.5,435.5L238.5,435.7L239.4,435.8L240.4,436.0L241.3,436.2L242.3,436.4L243.2,436.6L244.2,436.8L245.2,437.0L246.1,437.2L247.1,437.4L248.0,437.6L249.0,437.8L249.9,437.9L250.9,438.1L251.9,438.3L252.8,438.5L253.8,438.7L254.7,438.9L255.7,439.2L256.6,439.4L257.6,439.6L258.6,439.8L259.5,440.0L260.5,440.2L261.4,440.4L262.4,440.6L263.3,440.8L264.3,441.0L265.3,441.2L266.2,441.4L267.2,441.6L268.1,441.8L269.1,442.0L270.0,442.2L271.0,442.4L272.0,442.6L272.9,442.8L273.9,443.0L274.8,443.2L275.8,443.4L276.7,443.5L277.7,443.7L278.7,443.9L279.6,444.1L280.6,444.2L281.5,444.4L282.5,444.6L283.4,444.7L284.4,444.9L285.4,445.0L286.3,445.2L287.3,445.3L288.2,445.5L289.2,445.6L290.1,445.7L291.1,445.9L292.1,446.0L293.0,446.1L294.0,446.2L294.9,446.3L295.9,446.4L296.8,446.5L297.8,446.6L298.8,446.7L299.7,446.7L300.7,446.8L301.6,446.9L302.6,446.9L303.5,447.0L304.5,447.0L305.5,447.0L306.4,447.0L307.4,447.1L308.3,447.1L309.3,447.1L310.2,447.1L311.2,447.0L312.2,447.0L313.1,447.0L314.1,446.9L315.0,446.9L316.0,446.8" fill="none" stroke="#0000ff" stroke-width="1.7" stroke-linejoin="round"/>
<path d="M68.1,378.9L69.1,380.2L70.0,381.4L71.0,382.6L72.0,383.6L72.9,384.6L73.9,385.5L74.8,386.4L75.8,387.1L76.7,387.9L77.7,388.5L78.6,389.1L79.6,389.7L80.6,390.2L81.5,390.7L82.5,391.2L83.4,391.6L84.4,392.0L85.3,392.4L86.3,392.8L87.3,393.2L88.2,393.5L89.2,393.9L90.1,394.2L91.1,394.5L92.0,394.8L93.0,395.1L94.0,395.3L94.9,395.6L95.9,395.9L96.8,396.1L97.8,396.4L98.7,396.6L99.7,396.9L100.7,397.1L101.6,397.3L102.6,397.6L103.5,397.8L104.5,398.1L105.4,398.3L106.4,398.6L107.4,398.9L108.3,399.1L109.3,399.4L110.2,399.7L111.2,400.0L112.1,400.3L113.1,400.6L114.1,401.0L115.0,401.3L116.0,401.7L116.9,402.0L117.9,402.4L118.8,402.8L119.8,403.2L120.8,403.6L121.7,404.0L122.7,404.5L123.6,404.9L124.6,405.3L125.5,405.8L126.5,406.3L127.5,406.7L128.4,407.2L129.4,407.7L130.3,408.2L131.3,408.7L132.2,409.2L133.2,409.7L134.2,410.3L135.1,410.8L136.1,411.3L137.0,411.9L138.0,412.5L138.9,413.0L139.9,413.6L140.9,414.2L141.8,414.8L142.8,415.4L143.7,416.0L144.7,416.6L145.6,417.2L146.6,417.8L147.6,418.4L148.5,419.0L149.5,419.7L150.4,420.3L151.4,420.9L152.3,421.6L153.3,422.2L154.3,422.9L155.2,423.5L156.2,424.1L157.1,424.8L158.1,425.4L159.0,426.0L160.0,426.6L160.9,427.2L161.9,427.8L162.9,428.3L163.8,428.9L164.8,429.4L165.7,430.0L166.7,430.5L167.6,431.0L168.6,431.5L169.6,432.0L170.5,432.4L171.5,432.9L172.4,433.3L173.4,433.8L174.3,434.2L175.3,434.6L176.3,435.0L177.2,435.4L178.2,435.7L179.1,436.1L180.1,436.5L181.0,436.8L182.0,437.2L183.0,437.5L183.9,437.9L184.9,438.2L185.8,438.5L186.8,438.8L187.7,439.1L188.7,439.4L189.7,439.7L190.6,440.0L191.6,440.3L192.5,440.6L193.5,440.8L194.4,441.1L195.4,441.4L196.4,441.6L197.3,441.9L198.3,442.1L199.2,442.4L200.2,442.6L201.1,442.9L202.1,443.1L203.1,443.3L204.0,443.5L205.0,443.7L205.9,444.0L206.9,444.2L207.8,444.4L208.8,444.6L209.8,444.8L210.7,445.0L211.7,445.2L212.6,445.4L213.6,445.6L214.5,445.8L215.5,445.9L216.5,446.1L217.4,446.3L218.4,446.5L219.3,446.7L220.3,446.8L221.2,447.0L222.2,447.2L223.2,447.4L224.1,447.5L225.1,447.7L226.0,447.9L227.0,448.0L227.9,448.2L228.9,448.4L229.9,448.6L230.8,448.7L231.8,448.9L232.7,449.1L233.7,449.2L234.6,449.4L235.6,449.6L236.6,449.8L237.5,449.9L238.5,450.1L239.4,450.3L240.4,450.5L241.3,450.6L242.3,450.8L243.2,451.0L244.2,451.2L245.2,451.4L246.1,451.6L247.1,451.7L248.0,451.9L249.0,452.1L249.9,452.3L250.9,452.5L251.9,452.7L252.8,452.9L253.8,453.1L254.7,453.3L255.7,453.5L256.6,453.8L257.6,454.0L258.6,454.2L259.5,454.4L260.5,454.6L261.4,454.8L262.4,455.0L263.3,455.2L264.3,455.4L265.3,455.6L266.2,455.8L267.2,456.0L268.1,456.2L269.1,456.4L270.0,456.6L271.0,456.8L272.0,457.0L272.9,457.2L273.9,457.4L274.8,457.5L275.8,457.7L276.7,457.9L277.7,458.1L278.7,458.3L279.6,458.4L280.6,458.6L281.5,458.8L282.5,458.9L283.4,459.1L284.4,459.2L285.4,459.4L286.3,459.5L287.3,459.6L288.2,459.8L289.2,459.9L290.1,460.0L291.1,460.2L292.1,460.3L293.0,460.4L294.0,460.5L294.9,460.6L295.9,460.7L296.8,460.7L297.8,460.8L298.8,460.9L299.7,461.0L300.7,461.0L301.6,461.1L302.6,461.1L303.5,461.1L304.5,461.2L305.5,461.2L306.4,461.2L307.4,461.2L308.3,461.2L309.3,461.2L310.2,461.2L311.2,461.2L312.2,461.1L313.1,461.1L314.1,461.0L315.0,461.0L316.0,460.9" fill="none" stroke="#ff00ff" stroke-width="1.7" stroke-linejoin="round"/>
<path d="M68.1,378.9L69.1,381.4L70.0,383.5L71.0,385.2L72.0,386.7L72.9,387.9L73.9,388.9L74.8,389.8L75.8,390.6L76.7,391.2L77.7,391.8L78.6,392.4L79.6,393.0L80.6,393.5L81.5,393.9L82.5,394.3L83.4,394.7L84.4,395.1L85.3,395.5L86.3,395.8L87.3,396.1L88.2,396.3L89.2,396.6L90.1,396.9L91.1,397.1L92.0,397.3L93.0,397.5L94.0,397.8L94.9,398.0L95.9,398.2L96.8,398.4L97.8,398.6L98.7,398.9L99.7,399.1L100.7,399.3L101.6,399.5L102.6,399.8L103.5,400.0L104.5,400.2L105.4,400.5L106.4,400.8L107.4,401.0L108.3,401.3L109.3,401.6L110.2,401.8L111.2,402.1L112.1,402.5L113.1,402.8L114.1,403.1L115.0,403.4L116.0,403.8L116.9,404.1L117.9,404.5L118.8,404.9L119.8,405.3L120.8,405.7L121.7,406.1L122.7,406.6L123.6,407.1L124.6,407.5L125.5,408.0L126.5,408.5L127.5,409.0L128.4,409.6L129.4,410.1L130.3,410.7L131.3,411.2L132.2,411.8L133.2,412.4L134.2,413.0L135.1,413.5L136.1,414.1L137.0,414.7L138.0,415.3L138.9,415.9L139.9,416.5L140.9,417.0L141.8,417.6L142.8,418.2L143.7,418.8L144.7,419.3L145.6,419.9L146.6,420.4L147.6,420.9L148.5,421.5L149.5,422.0L150.4,422.5L151.4,423.0L152.3,423.5L153.3,424.1L154.3,424.6L155.2,425.2L156.2,425.8L157.1,426.4L158.1,427.0L159.0,427.7L160.0,428.4L160.9,429.2L161.9,429.9L162.9,430.7L163.8,431.5L164.8,432.4L165.7,433.2L166.7,434.0L167.6,434.9L168.6,435.7L169.6,436.6L170.5,437.4L171.5,438.2L172.4,439.0L173.4,439.8L174.3,440.6L175.3,441.3L176.3,442.0L177.2,442.7L178.2,443.4L179.1,444.0L180.1,444.6L181.0,445.1L182.0,445.7L183.0,446.2L183.9,446.7L184.9,447.1L185.8,447.6L186.8,448.0L187.7,448.4L188.7,448.8L189.7,449.1L190.6,449.5L191.6,449.8L192.5,450.1L193.5,450.4L194.4,450.7L195.4,450.9L196.4,451.2L197.3,451.4L198.3,451.6L199.2,451.9L200.2,452.1L201.1,452.3L202.1,452.5L203.1,452.7L204.0,452.9L205.0,453.0L205.9,453.2L206.9,453.4L207.8,453.6L208.8,453.8L209.8,453.9L210.7,454.1L211.7,454.3L212.6,454.4L213.6,454.6L214.5,454.8L215.5,454.9L216.5,455.1L217.4,455.2L218.4,455.4L219.3,455.6L220.3,455.7L221.2,455.9L222.2,456.0L223.2,456.2L224.1,456.4L225.1,456.5L226.0,456.7L227.0,456.8L227.9,457.0L228.9,457.1L229.9,457.3L230.8,457.4L231.8,457.6L232.7,457.8L233.7,457.9L234.6,458.1L235.6,458.2L236.6,458.4L237.5,458.6L238.5,458.7L239.4,458.9L240.4,459.1L241.3,459.2L242.3,459.4L243.2,459.6L244.2,459.7L245.2,459.9L246.1,460.1L247.1,460.2L248.0,460.4L249.0,460.6L249.9,460.8L250.9,460.9L251.9,461.1L252.8,461.3L253.8,461.4L254.7,461.6L255.7,461.8L256.6,461.9L257.6,462.1L258.6,462.3L259.5,462.4L260.5,462.6L261.4,462.8L262.4,462.9L263.3,463.1L264.3,463.3L265.3,463.4L266.2,463.6L267.2,463.7L268.1,463.9L269.1,464.0L270.0,464.2L271.0,464.3L272.0,464.5L272.9,464.6L273.9,464.8L274.8,464.9L275.8,465.1L276.7,465.2L277.7,465.3L278.7,465.5L279.6,465.6L280.6,465.7L281.5,465.9L282.5,466.0L283.4,466.1L284.4,466.2L285.4,466.3L286.3,466.4L287.3,466.5L288.2,466.7L289.2,466.8L290.1,466.8L291.1,466.9L292.1,467.0L293.0,467.1L294.0,467.2L294.9,467.3L295.9,467.4L296.8,467.4L297.8,467.5L298.8,467.6L299.7,467.6L300.7,467.7L301.6,467.7L302.6,467.8L303.5,467.8L304.5,467.8L305.5,467.9L306.4,467.9L307.4,467.9L308.3,467.9L309.3,468.0L310.2,468.0L311.2,468.0L312.2,468.0L313.1,467.9L314.1,467.9L315.0,467.9L316.0,467.9" fill="none" stroke="#1d8f2c" stroke-width="1.7" stroke-linejoin="round"/>
<path d="M68.1,378.9L69.1,379.4L70.0,380.0L71.0,380.5L72.0,381.1L72.9,381.6L73.9,382.2L74.8,382.7L75.8,383.3L76.8,383.9L77.7,384.4L78.7,385.0L79.6,385.5L80.6,386.1L81.6,386.6L82.5,387.2L83.5,387.7L84.4,388.3L85.4,388.9L86.4,389.4L87.3,390.0L88.3,390.5L89.2,391.1L90.2,391.6L91.2,392.1L92.1,392.7L93.1,393.2L94.0,393.8L95.0,394.3L95.9,394.8L96.9,395.4L97.9,395.9L98.8,396.4L99.8,396.9L100.7,397.4L101.7,398.0L102.7,398.5L103.6,399.0L104.6,399.5L105.5,400.0L106.5,400.5L107.5,401.0L108.4,401.5L109.4,402.0L110.3,402.5L111.3,403.0L112.3,403.5L113.2,404.0L114.2,404.6L115.1,405.1L116.1,405.7L117.1,406.2L118.0,406.8L119.0,407.4L119.9,408.0L120.9,408.6L121.9,409.3L122.8,409.9L123.8,410.6L124.7,411.3L125.7,412.0L126.7,412.7L127.6,413.5L128.6,414.2L129.5,415.0L130.5,415.8L131.4,416.7L132.4,417.6L133.4,418.5L134.3,419.4L135.3,420.4L136.2,421.4L137.2,422.4L138.2,423.5L139.1,424.5L140.1,425.7L141.0,426.8L142.0,428.0L143.0,429.1L143.9,430.3L144.9,431.6L145.8,432.8L146.8,434.1L147.8,435.4L148.7,436.7L149.7,438.0L150.6,439.3L151.6,440.6L152.6,442.0L153.5,443.3L154.5,444.7L155.4,446.1L156.4,447.5L157.4,448.9L158.3,450.3L159.3,451.7L160.2,453.1L161.2,454.5L162.2,455.9L163.1,457.3L164.1,458.8L165.0,460.2L166.0,461.6L166.9,463.1L167.9,464.5L168.9,466.0L169.8,467.4L170.8,468.9L171.7,470.4L172.7,471.8L173.7,473.3L174.6,474.8L175.6,476.3L176.5,477.8L177.5,479.2L178.5,480.7L179.4,482.2L180.4,483.7L181.3,485.2L182.3,486.7L183.3,488.1L184.2,489.6L185.2,491.1L186.1,492.5L187.1,494.0L188.1,495.4L189.0,496.8L190.0,498.2L190.9,499.6L191.9,501.0L192.9,502.3L193.8,503.6L194.8,504.9L195.7,506.2L196.7,507.5L197.7,508.7L198.6,509.9L199.6,511.1L200.5,512.3L201.5,513.4L202.5,514.5L203.4,515.5L204.4,516.6L205.3,517.6L206.3,518.5L207.2,519.5L208.2,520.4L209.2,521.3L210.1,522.1L211.1,523.0L212.0,523.8L213.0,524.6L214.0,525.3L214.9,526.1L215.9,526.8L216.8,527.5L217.8,528.2L218.8,528.9L219.7,529.5L220.7,530.2L221.6,530.8L222.6,531.4L223.6,532.0L224.5,532.6L225.5,533.1L226.4,533.7L227.4,534.2L228.4,534.8L229.3,535.3L230.3,535.8L231.2,536.3L232.2,536.8L233.2,537.3L234.1,537.7L235.1,538.2L236.0,538.7L237.0,539.1L238.0,539.5L238.9,539.9L239.9,540.4L240.8,540.8L241.8,541.2L242.7,541.5L243.7,541.9L244.7,542.3L245.6,542.6L246.6,543.0L247.5,543.3L248.5,543.6L249.5,544.0L250.4,544.3L251.4,544.6L252.3,544.9L253.3,545.2L254.3,545.5L255.2,545.7L256.2,546.0L257.1,546.3L258.1,546.5L259.1,546.8L260.0,547.0L261.0,547.2L261.9,547.5L262.9,547.7L263.9,547.9L264.8,548.1L265.8,548.3L266.7,548.5L267.7,548.7L268.7,548.8L269.6,549.0L270.6,549.2L271.5,549.3L272.5,549.5L273.5,549.6L274.4,549.8L275.4,549.9L276.3,550.1L277.3,550.2L278.3,550.3L279.2,550.4L280.2,550.6L281.1,550.7L282.1,550.8L283.0,550.9L284.0,551.0L285.0,551.1L285.9,551.1L286.9,551.2L287.8,551.3L288.8,551.4L289.8,551.5L290.7,551.5L291.7,551.6L292.6,551.7L293.6,551.7L294.6,551.8L295.5,551.8L296.5,551.9L297.4,551.9L298.4,552.0L299.4,552.0L300.3,552.1L301.3,552.1L302.2,552.2L303.2,552.2L304.2,552.2L305.1,552.3L306.1,552.3L307.0,552.3L308.0,552.3L309.0,552.4L309.9,552.4L310.9,552.4L311.8,552.4L312.8,552.5L313.8,552.5L314.7,552.5L315.7,552.5L316.6,552.6" fill="none" stroke="#ff8a14" stroke-width="1.7" stroke-linejoin="round"/>
<line x1="278.8" y1="365.0" x2="300.3" y2="365.0" stroke="#000000" stroke-width="1.9"/>
<text class="t" x="304" y="370.0" font-family="Liberation Sans, sans-serif" font-weight="bold" font-size="13.4">a</text>
<line x1="278.8" y1="377.2" x2="300.3" y2="377.2" stroke="#ff0000" stroke-width="1.9"/>
<text class="t" x="304" y="382.2" font-family="Liberation Sans, sans-serif" font-weight="bold" font-size="13.4">b</text>
<line x1="278.8" y1="389.4" x2="300.3" y2="389.4" stroke="#0000ff" stroke-width="1.9"/>
<text class="t" x="304" y="394.4" font-family="Liberation Sans, sans-serif" font-weight="bold" font-size="13.4">c</text>
<line x1="278.8" y1="401.6" x2="300.3" y2="401.6" stroke="#ff00ff" stroke-width="1.9"/>
<text class="t" x="304" y="406.6" font-family="Liberation Sans, sans-serif" font-weight="bold" font-size="13.4">d</text>
<line x1="278.8" y1="413.8" x2="300.3" y2="413.8" stroke="#1d8f2c" stroke-width="1.9"/>
<text class="t" x="304" y="418.8" font-family="Liberation Sans, sans-serif" font-weight="bold" font-size="13.4">e</text>
<line x1="278.8" y1="426.0" x2="300.3" y2="426.0" stroke="#ff8a14" stroke-width="1.9"/>
<text class="t" x="304" y="431.0" font-family="Liberation Sans, sans-serif" font-weight="bold" font-size="13.4">f</text>
<rect x="58.5" y="357.7" width="260.1" height="209.8" fill="none" stroke="#000" stroke-width="1.8" stroke-linejoin="round"/>
<line x1="54.5" y1="378.9" x2="58.5" y2="378.9" stroke="#000" stroke-width="1.5"/>
<text class="t" x="52" y="382.8" text-anchor="end" font-family="Liberation Sans, sans-serif" font-weight="bold" font-size="13.2">100</text>
<line x1="54.5" y1="420.9" x2="58.5" y2="420.9" stroke="#000" stroke-width="1.5"/>
<text class="t" x="52" y="424.8" text-anchor="end" font-family="Liberation Sans, sans-serif" font-weight="bold" font-size="13.2">95</text>
<line x1="54.5" y1="462.9" x2="58.5" y2="462.9" stroke="#000" stroke-width="1.5"/>
<text class="t" x="52" y="466.8" text-anchor="end" font-family="Liberation Sans, sans-serif" font-weight="bold" font-size="13.2">90</text>
<line x1="54.5" y1="504.9" x2="58.5" y2="504.9" stroke="#000" stroke-width="1.5"/>
<text class="t" x="52" y="508.8" text-anchor="end" font-family="Liberation Sans, sans-serif" font-weight="bold" font-size="13.2">85</text>
<line x1="54.5" y1="546.9" x2="58.5" y2="546.9" stroke="#000" stroke-width="1.5"/>
<text class="t" x="52" y="550.8" text-anchor="end" font-family="Liberation Sans, sans-serif" font-weight="bold" font-size="13.2">80</text>
<line x1="58.5" y1="567.5" x2="58.5" y2="571.5" stroke="#000" stroke-width="1.5"/>
<text class="t" x="58.5" y="584.8" text-anchor="middle" font-family="Liberation Sans, sans-serif" font-weight="bold" font-size="13">0</text>
<line x1="91.0" y1="567.5" x2="91.0" y2="571.5" stroke="#000" stroke-width="1.5"/>
<text class="t" x="91.0" y="584.8" text-anchor="middle" font-family="Liberation Sans, sans-serif" font-weight="bold" font-size="13">100</text>
<line x1="123.5" y1="567.5" x2="123.5" y2="571.5" stroke="#000" stroke-width="1.5"/>
<text class="t" x="123.5" y="584.8" text-anchor="middle" font-family="Liberation Sans, sans-serif" font-weight="bold" font-size="13">200</text>
<line x1="156.0" y1="567.5" x2="156.0" y2="571.5" stroke="#000" stroke-width="1.5"/>
<text class="t" x="156.0" y="584.8" text-anchor="middle" font-family="Liberation Sans, sans-serif" font-weight="bold" font-size="13">300</text>
<line x1="188.5" y1="567.5" x2="188.5" y2="571.5" stroke="#000" stroke-width="1.5"/>
<text class="t" x="188.5" y="584.8" text-anchor="middle" font-family="Liberation Sans, sans-serif" font-weight="bold" font-size="13">400</text>
<line x1="221.1" y1="567.5" x2="221.1" y2="571.5" stroke="#000" stroke-width="1.5"/>
<text class="t" x="221.1" y="584.8" text-anchor="middle" font-family="Liberation Sans, sans-serif" font-weight="bold" font-size="13">500</text>
<line x1="253.6" y1="567.5" x2="253.6" y2="571.5" stroke="#000" stroke-width="1.5"/>
<text class="t" x="253.6" y="584.8" text-anchor="middle" font-family="Liberation Sans, sans-serif" font-weight="bold" font-size="13">600</text>
<line x1="286.1" y1="567.5" x2="286.1" y2="571.5" stroke="#000" stroke-width="1.5"/>
<text class="t" x="286.1" y="584.8" text-anchor="middle" font-family="Liberation Sans, sans-serif" font-weight="bold" font-size="13">700</text>
<line x1="318.6" y1="567.5" x2="318.6" y2="571.5" stroke="#000" stroke-width="1.5"/>
<text class="t" x="318.6" y="584.8" text-anchor="middle" font-family="Liberation Sans, sans-serif" font-weight="bold" font-size="13">800</text>
<text class="t" x="200.3" y="606" text-anchor="middle" font-family="Liberation Sans, sans-serif" font-weight="bold" font-size="18.1">Temperature ( <tspan font-weight="normal">°</tspan>C)</text>
<text class="t" transform="translate(22.3,461) rotate(-90)" text-anchor="middle" font-family="Liberation Sans, sans-serif" font-weight="bold" font-size="18.1">Weight loss (%)</text>
<text class="t" x="1.3" y="373" font-family="Liberation Serif, serif" font-weight="bold" font-size="17.8" textLength="27" lengthAdjust="spacingAndGlyphs">(iii)</text>
<rect x="419.1" y="456.9" width="22.8" height="92.9" fill="#ff0000"/>
<line x1="430.5" y1="551.3" x2="430.5" y2="548.3" stroke="#111" stroke-width="1.2"/>
<line x1="427.9" y1="551.3" x2="433.1" y2="551.3" stroke="#111" stroke-width="1.2"/>
<line x1="427.9" y1="548.3" x2="433.1" y2="548.3" stroke="#111" stroke-width="1.2"/>
<text class="t" transform="translate(436.2,502.9) rotate(-90)" text-anchor="middle" font-family="Liberation Sans, sans-serif" font-weight="bold" font-size="14.3">GA</text>
<text class="t" x="430.5" y="599.2" text-anchor="middle" font-family="Liberation Sans, sans-serif" font-weight="bold" font-size="14.4">GA</text>
<line x1="430.5" y1="580.2" x2="430.5" y2="584.2" stroke="#000" stroke-width="1.4"/>
<line x1="453.4" y1="580.2" x2="453.4" y2="582.7" stroke="#000" stroke-width="1.2"/>
<rect x="465.0" y="456.9" width="22.8" height="100.3" fill="#ff0000"/>
<line x1="476.4" y1="559.9" x2="476.4" y2="554.5" stroke="#111" stroke-width="1.2"/>
<line x1="473.8" y1="559.9" x2="479.0" y2="559.9" stroke="#111" stroke-width="1.2"/>
<line x1="473.8" y1="554.5" x2="479.0" y2="554.5" stroke="#111" stroke-width="1.2"/>
<text class="t" transform="translate(482.1,503.6) rotate(-90)" text-anchor="middle" font-family="Liberation Sans, sans-serif" font-weight="bold" font-size="14.3">CA</text>
<text class="t" x="476.4" y="599.2" text-anchor="middle" font-family="Liberation Sans, sans-serif" font-weight="bold" font-size="14.4">CA</text>
<line x1="476.4" y1="580.2" x2="476.4" y2="584.2" stroke="#000" stroke-width="1.4"/>
<line x1="499.3" y1="580.2" x2="499.3" y2="582.7" stroke="#000" stroke-width="1.2"/>
<rect x="510.8" y="456.9" width="22.8" height="101.0" fill="#ff0000"/>
<line x1="522.2" y1="560.6" x2="522.2" y2="555.2" stroke="#111" stroke-width="1.2"/>
<line x1="519.6" y1="560.6" x2="524.8" y2="560.6" stroke="#111" stroke-width="1.2"/>
<line x1="519.6" y1="555.2" x2="524.8" y2="555.2" stroke="#111" stroke-width="1.2"/>
<text class="t" transform="translate(527.9,504.2) rotate(-90)" text-anchor="middle" font-family="Liberation Sans, sans-serif" font-weight="bold" font-size="14.3">PEG</text>
<text class="t" x="522.2" y="599.2" text-anchor="middle" font-family="Liberation Sans, sans-serif" font-weight="bold" font-size="14.4">PEG</text>
<line x1="522.2" y1="580.2" x2="522.2" y2="584.2" stroke="#000" stroke-width="1.4"/>
<line x1="545.1" y1="580.2" x2="545.1" y2="582.7" stroke="#000" stroke-width="1.2"/>
<rect x="556.6" y="456.9" width="22.8" height="78.5" fill="#ff0000"/>
<line x1="568.0" y1="539.2" x2="568.0" y2="531.7" stroke="#111" stroke-width="1.2"/>
<line x1="565.4" y1="539.2" x2="570.6" y2="539.2" stroke="#111" stroke-width="1.2"/>
<line x1="565.4" y1="531.7" x2="570.6" y2="531.7" stroke="#111" stroke-width="1.2"/>
<text class="t" transform="translate(573.7,501.8) rotate(-90)" text-anchor="middle" font-family="Liberation Sans, sans-serif" font-weight="bold" font-size="14.3">PVP</text>
<text class="t" x="568.0" y="599.2" text-anchor="middle" font-family="Liberation Sans, sans-serif" font-weight="bold" font-size="14.4">PVP</text>
<line x1="568.0" y1="580.2" x2="568.0" y2="584.2" stroke="#000" stroke-width="1.4"/>
<line x1="590.9" y1="580.2" x2="590.9" y2="582.7" stroke="#000" stroke-width="1.2"/>
<rect x="602.5" y="456.9" width="22.8" height="96.6" fill="#ff0000"/>
<line x1="613.9" y1="556.7" x2="613.9" y2="550.3" stroke="#111" stroke-width="1.2"/>
<line x1="611.2" y1="556.7" x2="616.5" y2="556.7" stroke="#111" stroke-width="1.2"/>
<line x1="611.2" y1="550.3" x2="616.5" y2="550.3" stroke="#111" stroke-width="1.2"/>
<text class="t" transform="translate(619.6,503.0) rotate(-90)" text-anchor="middle" font-family="Liberation Sans, sans-serif" font-weight="bold" font-size="14.3">EDA</text>
<text class="t" x="613.9" y="599.2" text-anchor="middle" font-family="Liberation Sans, sans-serif" font-weight="bold" font-size="14.4">EDA</text>
<line x1="613.9" y1="580.2" x2="613.9" y2="584.2" stroke="#000" stroke-width="1.4"/>
<line x1="636.8" y1="580.2" x2="636.8" y2="582.7" stroke="#000" stroke-width="1.2"/>
<rect x="648.3" y="384.8" width="22.8" height="72.1" fill="#ff0000"/>
<line x1="659.7" y1="387.2" x2="659.7" y2="382.3" stroke="#111" stroke-width="1.2"/>
<line x1="657.1" y1="387.2" x2="662.3" y2="387.2" stroke="#111" stroke-width="1.2"/>
<line x1="657.1" y1="382.3" x2="662.3" y2="382.3" stroke="#111" stroke-width="1.2"/>
<text class="t" transform="translate(665.4,418.2) rotate(-90)" text-anchor="middle" font-family="Liberation Sans, sans-serif" font-weight="bold" font-size="14.3">CTAB</text>
<text class="t" x="659.7" y="599.2" text-anchor="middle" font-family="Liberation Sans, sans-serif" font-weight="bold" font-size="14.4">CTAB</text>
<line x1="659.7" y1="580.2" x2="659.7" y2="584.2" stroke="#000" stroke-width="1.4"/>
<line x1="407.6" y1="456.9" x2="682.6" y2="456.9" stroke="#000" stroke-width="1.8"/>
<rect x="407.6" y="358.3" width="275.0" height="221.90000000000003" fill="none" stroke="#000" stroke-width="1.8" stroke-linejoin="round"/>
<line x1="403.1" y1="358.1" x2="407.6" y2="358.1" stroke="#000" stroke-width="1.5"/>
<text class="t" x="399.6" y="362.7" text-anchor="end" font-family="Liberation Sans, sans-serif" font-weight="bold" font-size="13.6" transform="translate(399.6,0) scale(1.07,1) translate(-399.6,0)">40</text>
<line x1="403.1" y1="382.8" x2="407.6" y2="382.8" stroke="#000" stroke-width="1.5"/>
<text class="t" x="399.6" y="387.4" text-anchor="end" font-family="Liberation Sans, sans-serif" font-weight="bold" font-size="13.6" transform="translate(399.6,0) scale(1.07,1) translate(-399.6,0)">30</text>
<line x1="403.1" y1="407.5" x2="407.6" y2="407.5" stroke="#000" stroke-width="1.5"/>
<text class="t" x="399.6" y="412.1" text-anchor="end" font-family="Liberation Sans, sans-serif" font-weight="bold" font-size="13.6" transform="translate(399.6,0) scale(1.07,1) translate(-399.6,0)">20</text>
<line x1="403.1" y1="432.2" x2="407.6" y2="432.2" stroke="#000" stroke-width="1.5"/>
<text class="t" x="399.6" y="436.8" text-anchor="end" font-family="Liberation Sans, sans-serif" font-weight="bold" font-size="13.6" transform="translate(399.6,0) scale(1.07,1) translate(-399.6,0)">10</text>
<line x1="403.1" y1="456.9" x2="407.6" y2="456.9" stroke="#000" stroke-width="1.5"/>
<text class="t" x="399.6" y="461.5" text-anchor="end" font-family="Liberation Sans, sans-serif" font-weight="bold" font-size="13.6" transform="translate(399.6,0) scale(1.07,1) translate(-399.6,0)">0</text>
<line x1="403.1" y1="481.6" x2="407.6" y2="481.6" stroke="#000" stroke-width="1.5"/>
<text class="t" x="399.6" y="486.2" text-anchor="end" font-family="Liberation Sans, sans-serif" font-weight="bold" font-size="13.6" transform="translate(399.6,0) scale(1.07,1) translate(-399.6,0)">-10</text>
<line x1="403.1" y1="506.3" x2="407.6" y2="506.3" stroke="#000" stroke-width="1.5"/>
<text class="t" x="399.6" y="510.9" text-anchor="end" font-family="Liberation Sans, sans-serif" font-weight="bold" font-size="13.6" transform="translate(399.6,0) scale(1.07,1) translate(-399.6,0)">-20</text>
<line x1="403.1" y1="531.0" x2="407.6" y2="531.0" stroke="#000" stroke-width="1.5"/>
<text class="t" x="399.6" y="535.6" text-anchor="end" font-family="Liberation Sans, sans-serif" font-weight="bold" font-size="13.6" transform="translate(399.6,0) scale(1.07,1) translate(-399.6,0)">-30</text>
<line x1="403.1" y1="555.7" x2="407.6" y2="555.7" stroke="#000" stroke-width="1.5"/>
<text class="t" x="399.6" y="560.3" text-anchor="end" font-family="Liberation Sans, sans-serif" font-weight="bold" font-size="13.6" transform="translate(399.6,0) scale(1.07,1) translate(-399.6,0)">-40</text>
<line x1="403.1" y1="580.4" x2="407.6" y2="580.4" stroke="#000" stroke-width="1.5"/>
<text class="t" x="399.6" y="585.0" text-anchor="end" font-family="Liberation Sans, sans-serif" font-weight="bold" font-size="13.6" transform="translate(399.6,0) scale(1.07,1) translate(-399.6,0)">-50</text>
<line x1="405.1" y1="370.4" x2="407.6" y2="370.4" stroke="#000" stroke-width="1.3"/>
<line x1="405.1" y1="395.1" x2="407.6" y2="395.1" stroke="#000" stroke-width="1.3"/>
<line x1="405.1" y1="419.8" x2="407.6" y2="419.8" stroke="#000" stroke-width="1.3"/>
<line x1="405.1" y1="444.5" x2="407.6" y2="444.5" stroke="#000" stroke-width="1.3"/>
<line x1="405.1" y1="469.2" x2="407.6" y2="469.2" stroke="#000" stroke-width="1.3"/>
<line x1="405.1" y1="493.9" x2="407.6" y2="493.9" stroke="#000" stroke-width="1.3"/>
<line x1="405.1" y1="518.6" x2="407.6" y2="518.6" stroke="#000" stroke-width="1.3"/>
<line x1="405.1" y1="543.4" x2="407.6" y2="543.4" stroke="#000" stroke-width="1.3"/>
<line x1="405.1" y1="568.0" x2="407.6" y2="568.0" stroke="#000" stroke-width="1.3"/>
<text class="t" transform="translate(373.9,472.1) rotate(-90)" text-anchor="middle" font-family="Liberation Sans, sans-serif" font-weight="bold" font-size="19">Zeta potential (mV)</text>
<text class="t" x="350" y="374" font-family="Liberation Serif, serif" font-weight="bold" font-size="18" textLength="26.6" lengthAdjust="spacingAndGlyphs">(iv)</text>
</svg>
</body></html>
